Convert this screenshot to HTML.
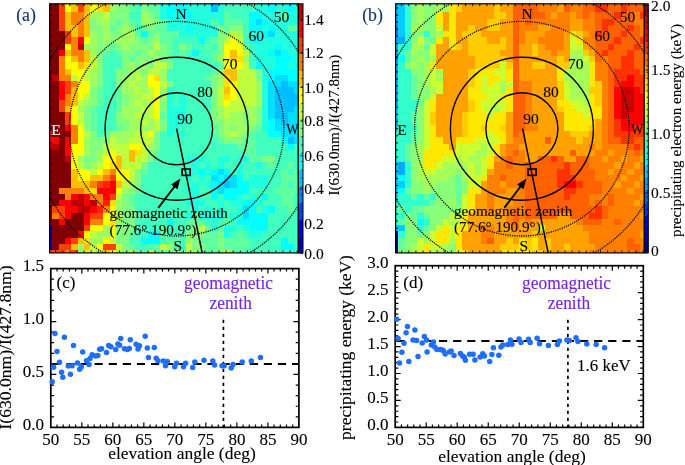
<!DOCTYPE html>
<html><head><meta charset="utf-8"><title>figure</title>
<style>html,body{margin:0;padding:0;background:#fff;overflow:hidden}svg{display:block;will-change:transform}text{font-family:"Liberation Serif",serif}</style>
</head><body><svg width="685" height="465" viewBox="0 0 685 465" font-family='"Liberation Serif", serif'><clipPath id="clipa"><rect x="49.6" y="3.8" width="248.70000000000002" height="249.1"/></clipPath><filter id="blclipa" x="-5%" y="-5%" width="110%" height="110%"><feGaussianBlur stdDeviation="0.55"/></filter><g clip-path="url(#clipa)"><g filter="url(#blclipa)" shape-rendering="crispEdges"><path fill="#800000" d="M45.94 0.80h12.72v11.50h-12.72zM45.94 12.30h12.72v6.26h-12.72zM45.94 18.56h12.72v6.26h-12.72zM45.94 24.81h12.72v6.26h-12.72zM45.94 31.07h19.07v6.26h-19.07zM45.94 37.33h19.07v6.26h-19.07zM45.94 43.59h19.07v6.26h-19.07zM45.94 49.85h12.72v6.26h-12.72zM45.94 56.10h12.72v6.26h-12.72zM45.94 62.36h12.72v6.26h-12.72zM45.94 68.62h12.72v6.26h-12.72zM45.94 74.88h6.36v6.26h-6.36zM45.94 81.14h12.72v6.26h-12.72zM45.94 87.39h12.72v6.26h-12.72zM45.94 93.65h12.72v6.26h-12.72zM45.94 99.91h12.72v6.26h-12.72zM45.94 106.17h12.72v6.26h-12.72zM45.94 112.43h19.07v6.26h-19.07zM45.94 118.68h19.07v6.26h-19.07zM45.94 124.94h19.07v6.26h-19.07zM52.30 131.20h19.07v6.26h-19.07zM58.66 137.46h6.36v6.26h-6.36zM58.66 143.72h6.36v6.26h-6.36zM45.94 149.97h19.07v6.26h-19.07zM45.94 156.23h19.07v6.26h-19.07zM45.94 162.49h25.43v6.26h-25.43zM45.94 168.75h25.43v6.26h-25.43zM45.94 175.01h25.43v6.26h-25.43zM45.94 181.26h25.43v6.26h-25.43zM45.94 187.52h12.72v6.26h-12.72zM45.94 193.78h19.07v6.26h-19.07zM45.94 200.04h12.72v6.26h-12.72zM45.94 206.30h6.36v6.26h-6.36zM45.94 212.55h6.36v6.26h-6.36zM71.37 212.55h12.72v6.26h-12.72zM45.94 218.81h12.72v6.26h-12.72zM65.01 218.81h19.07v6.26h-19.07zM52.30 225.07h31.79v6.26h-31.79zM52.30 231.33h25.43v6.26h-25.43zM52.30 237.59h12.72v6.26h-12.72zM52.30 243.84h6.36v6.26h-6.36z"/><path fill="#ff4000" d="M58.66 0.80h6.36v11.50h-6.36zM77.73 0.80h6.36v11.50h-6.36zM58.66 12.30h6.36v6.26h-6.36zM58.66 18.56h6.36v6.26h-6.36zM58.66 24.81h6.36v6.26h-6.36zM65.01 31.07h6.36v6.26h-6.36zM65.01 37.33h6.36v6.26h-6.36zM65.01 81.14h6.36v6.26h-6.36zM65.01 87.39h6.36v6.26h-6.36zM58.66 99.91h6.36v6.26h-6.36zM58.66 106.17h6.36v6.26h-6.36zM65.01 112.43h6.36v6.26h-6.36zM65.01 118.68h6.36v6.26h-6.36zM109.52 175.01h6.36v6.26h-6.36zM96.80 181.26h6.36v6.26h-6.36zM109.52 193.78h6.36v6.26h-6.36zM52.30 206.30h12.72v6.26h-12.72zM58.66 212.55h6.36v6.26h-6.36zM90.45 212.55h12.72v6.26h-12.72zM84.09 225.07h6.36v6.26h-6.36zM71.37 237.59h6.36v6.26h-6.36zM58.66 243.84h12.72v6.26h-12.72zM103.16 243.84h12.72v6.26h-12.72zM45.94 250.10h19.07v6.26h-19.07zM71.37 250.10h6.36v6.26h-6.36z"/><path fill="#ffff00" d="M65.01 0.80h6.36v11.50h-6.36zM90.45 0.80h6.36v11.50h-6.36zM84.09 37.33h6.36v6.26h-6.36zM230.32 37.33h6.36v6.26h-6.36zM65.01 43.59h6.36v6.26h-6.36zM223.96 43.59h19.07v6.26h-19.07zM223.96 49.85h6.36v6.26h-6.36zM236.68 49.85h6.36v6.26h-6.36zM65.01 56.10h6.36v6.26h-6.36zM223.96 56.10h6.36v6.26h-6.36zM65.01 62.36h12.72v6.26h-12.72zM223.96 62.36h19.07v6.26h-19.07zM71.37 68.62h12.72v6.26h-12.72zM77.73 74.88h6.36v6.26h-6.36zM147.67 74.88h6.36v6.26h-6.36zM77.73 81.14h12.72v6.26h-12.72zM147.67 81.14h12.72v6.26h-12.72zM230.32 81.14h6.36v6.26h-6.36zM77.73 87.39h12.72v6.26h-12.72zM154.03 87.39h6.36v6.26h-6.36zM230.32 87.39h6.36v6.26h-6.36zM77.73 93.65h6.36v6.26h-6.36zM154.03 93.65h6.36v6.26h-6.36zM230.32 93.65h6.36v6.26h-6.36zM154.03 99.91h6.36v6.26h-6.36zM223.96 99.91h6.36v6.26h-6.36zM71.37 106.17h6.36v6.26h-6.36zM154.03 106.17h6.36v6.26h-6.36zM71.37 112.43h6.36v6.26h-6.36zM154.03 112.43h6.36v6.26h-6.36zM71.37 118.68h6.36v6.26h-6.36zM77.73 124.94h6.36v6.26h-6.36zM77.73 131.20h6.36v6.26h-6.36zM147.67 131.20h6.36v6.26h-6.36zM77.73 137.46h6.36v6.26h-6.36zM71.37 143.72h12.72v6.26h-12.72zM128.59 143.72h12.72v6.26h-12.72zM71.37 149.97h12.72v6.26h-12.72zM109.52 149.97h6.36v6.26h-6.36zM71.37 156.23h6.36v6.26h-6.36zM103.16 156.23h12.72v6.26h-12.72zM71.37 162.49h6.36v6.26h-6.36zM103.16 162.49h6.36v6.26h-6.36zM77.73 168.75h12.72v6.26h-12.72zM96.80 168.75h6.36v6.26h-6.36zM115.88 168.75h12.72v6.26h-12.72zM77.73 175.01h12.72v6.26h-12.72zM115.88 175.01h12.72v6.26h-12.72zM115.88 187.52h6.36v6.26h-6.36zM109.52 206.30h6.36v6.26h-6.36zM103.16 212.55h12.72v6.26h-12.72zM103.16 218.81h6.36v6.26h-6.36zM90.45 225.07h12.72v6.26h-12.72zM109.52 225.07h6.36v6.26h-6.36zM84.09 231.33h6.36v6.26h-6.36zM109.52 231.33h6.36v6.26h-6.36zM103.16 237.59h6.36v6.26h-6.36zM96.80 243.84h6.36v6.26h-6.36zM109.52 250.10h6.36v6.26h-6.36z"/><path fill="#ffbf00" d="M71.37 0.80h6.36v11.50h-6.36zM84.09 0.80h6.36v11.50h-6.36zM103.16 0.80h6.36v11.50h-6.36zM65.01 12.30h6.36v6.26h-6.36zM84.09 12.30h6.36v6.26h-6.36zM65.01 18.56h6.36v6.26h-6.36zM84.09 18.56h6.36v6.26h-6.36zM65.01 24.81h12.72v6.26h-12.72zM84.09 24.81h6.36v6.26h-6.36zM71.37 31.07h6.36v6.26h-6.36zM84.09 31.07h6.36v6.26h-6.36zM65.01 49.85h6.36v6.26h-6.36zM84.09 49.85h6.36v6.26h-6.36zM230.32 49.85h6.36v6.26h-6.36zM71.37 56.10h6.36v6.26h-6.36zM84.09 56.10h6.36v6.26h-6.36zM230.32 56.10h6.36v6.26h-6.36zM77.73 62.36h6.36v6.26h-6.36zM65.01 68.62h6.36v6.26h-6.36zM223.96 68.62h12.72v6.26h-12.72zM230.32 74.88h6.36v6.26h-6.36zM71.37 87.39h6.36v6.26h-6.36zM223.96 87.39h6.36v6.26h-6.36zM71.37 93.65h6.36v6.26h-6.36zM71.37 99.91h6.36v6.26h-6.36zM65.01 106.17h6.36v6.26h-6.36zM128.59 149.97h6.36v6.26h-6.36zM115.88 156.23h6.36v6.26h-6.36zM128.59 156.23h6.36v6.26h-6.36zM115.88 162.49h6.36v6.26h-6.36zM71.37 168.75h6.36v6.26h-6.36zM103.16 168.75h6.36v6.26h-6.36zM71.37 175.01h6.36v6.26h-6.36zM90.45 175.01h12.72v6.26h-12.72zM71.37 181.26h19.07v6.26h-19.07zM115.88 181.26h6.36v6.26h-6.36zM84.09 187.52h6.36v6.26h-6.36zM77.73 237.59h6.36v6.26h-6.36zM71.37 243.84h6.36v6.26h-6.36zM84.09 243.84h6.36v6.26h-6.36zM103.16 250.10h6.36v6.26h-6.36z"/><path fill="#ffdf00" d="M96.80 0.80h6.36v11.50h-6.36zM236.68 56.10h6.36v6.26h-6.36zM84.09 62.36h6.36v6.26h-6.36zM154.03 74.88h6.36v6.26h-6.36zM223.96 74.88h6.36v6.26h-6.36zM223.96 81.14h6.36v6.26h-6.36zM223.96 93.65h6.36v6.26h-6.36zM134.95 149.97h6.36v6.26h-6.36zM109.52 162.49h6.36v6.26h-6.36zM90.45 187.52h6.36v6.26h-6.36zM109.52 200.04h6.36v6.26h-6.36zM109.52 218.81h6.36v6.26h-6.36zM84.09 237.59h6.36v6.26h-6.36z"/><path fill="#a0ff60" d="M109.52 0.80h6.36v11.50h-6.36zM90.45 12.30h12.72v6.26h-12.72zM141.31 12.30h6.36v6.26h-6.36zM96.80 18.56h12.72v6.26h-12.72zM141.31 18.56h12.72v6.26h-12.72zM103.16 24.81h6.36v6.26h-6.36zM122.24 24.81h6.36v6.26h-6.36zM90.45 31.07h6.36v6.26h-6.36zM103.16 31.07h6.36v6.26h-6.36zM122.24 31.07h12.72v6.26h-12.72zM236.68 31.07h6.36v6.26h-6.36zM90.45 37.33h6.36v6.26h-6.36zM103.16 37.33h6.36v6.26h-6.36zM115.88 37.33h19.07v6.26h-19.07zM154.03 37.33h6.36v6.26h-6.36zM84.09 43.59h12.72v6.26h-12.72zM122.24 43.59h6.36v6.26h-6.36zM90.45 49.85h6.36v6.26h-6.36zM147.67 49.85h6.36v6.26h-6.36zM154.03 56.10h6.36v6.26h-6.36zM217.61 56.10h6.36v6.26h-6.36zM243.04 56.10h6.36v6.26h-6.36zM128.59 62.36h6.36v6.26h-6.36zM141.31 62.36h6.36v6.26h-6.36zM90.45 68.62h6.36v6.26h-6.36zM128.59 68.62h12.72v6.26h-12.72zM160.38 68.62h6.36v6.26h-6.36zM217.61 68.62h6.36v6.26h-6.36zM90.45 74.88h6.36v6.26h-6.36zM122.24 74.88h12.72v6.26h-12.72zM141.31 74.88h6.36v6.26h-6.36zM160.38 74.88h6.36v6.26h-6.36zM217.61 74.88h6.36v6.26h-6.36zM90.45 81.14h6.36v6.26h-6.36zM122.24 81.14h6.36v6.26h-6.36zM134.95 81.14h12.72v6.26h-12.72zM217.61 81.14h6.36v6.26h-6.36zM255.75 81.14h6.36v6.26h-6.36zM122.24 87.39h12.72v6.26h-12.72zM141.31 87.39h6.36v6.26h-6.36zM160.38 87.39h6.36v6.26h-6.36zM255.75 87.39h6.36v6.26h-6.36zM128.59 93.65h12.72v6.26h-12.72zM160.38 93.65h6.36v6.26h-6.36zM255.75 93.65h6.36v6.26h-6.36zM84.09 99.91h6.36v6.26h-6.36zM128.59 99.91h6.36v6.26h-6.36zM141.31 99.91h6.36v6.26h-6.36zM255.75 99.91h6.36v6.26h-6.36zM77.73 106.17h6.36v6.26h-6.36zM122.24 106.17h19.07v6.26h-19.07zM217.61 106.17h6.36v6.26h-6.36zM243.04 106.17h12.72v6.26h-12.72zM122.24 112.43h12.72v6.26h-12.72zM141.31 112.43h6.36v6.26h-6.36zM217.61 112.43h6.36v6.26h-6.36zM230.32 112.43h12.72v6.26h-12.72zM249.40 112.43h6.36v6.26h-6.36zM128.59 118.68h12.72v6.26h-12.72zM147.67 118.68h6.36v6.26h-6.36zM223.96 118.68h19.07v6.26h-19.07zM249.40 118.68h6.36v6.26h-6.36zM128.59 124.94h25.43v6.26h-25.43zM223.96 124.94h6.36v6.26h-6.36zM236.68 124.94h12.72v6.26h-12.72zM109.52 131.20h25.43v6.26h-25.43zM223.96 131.20h6.36v6.26h-6.36zM236.68 131.20h6.36v6.26h-6.36zM84.09 137.46h6.36v6.26h-6.36zM115.88 137.46h12.72v6.26h-12.72zM84.09 143.72h6.36v6.26h-6.36zM147.67 143.72h6.36v6.26h-6.36zM84.09 149.97h6.36v6.26h-6.36zM96.80 149.97h6.36v6.26h-6.36zM77.73 156.23h6.36v6.26h-6.36zM96.80 156.23h6.36v6.26h-6.36zM90.45 162.49h6.36v6.26h-6.36zM128.59 181.26h6.36v6.26h-6.36zM122.24 187.52h6.36v6.26h-6.36zM115.88 200.04h6.36v6.26h-6.36zM115.88 206.30h6.36v6.26h-6.36zM115.88 218.81h6.36v6.26h-6.36zM103.16 225.07h6.36v6.26h-6.36zM96.80 231.33h12.72v6.26h-12.72zM90.45 237.59h12.72v6.26h-12.72zM185.82 237.59h6.36v6.26h-6.36zM77.73 243.84h6.36v6.26h-6.36zM166.74 243.84h6.36v6.26h-6.36zM77.73 250.10h6.36v6.26h-6.36zM185.82 250.10h12.72v6.26h-12.72z"/><path fill="#80ff80" d="M115.88 0.80h12.72v11.50h-12.72zM141.31 0.80h6.36v11.50h-6.36zM109.52 12.30h19.07v6.26h-19.07zM147.67 12.30h6.36v6.26h-6.36zM90.45 18.56h6.36v6.26h-6.36zM109.52 18.56h6.36v6.26h-6.36zM122.24 18.56h6.36v6.26h-6.36zM154.03 18.56h6.36v6.26h-6.36zM90.45 24.81h12.72v6.26h-12.72zM115.88 24.81h6.36v6.26h-6.36zM128.59 24.81h6.36v6.26h-6.36zM147.67 24.81h6.36v6.26h-6.36zM217.61 24.81h6.36v6.26h-6.36zM230.32 24.81h12.72v6.26h-12.72zM96.80 31.07h6.36v6.26h-6.36zM109.52 31.07h12.72v6.26h-12.72zM154.03 31.07h6.36v6.26h-6.36zM217.61 31.07h12.72v6.26h-12.72zM96.80 37.33h6.36v6.26h-6.36zM109.52 37.33h6.36v6.26h-6.36zM134.95 37.33h6.36v6.26h-6.36zM147.67 37.33h6.36v6.26h-6.36zM217.61 37.33h6.36v6.26h-6.36zM96.80 43.59h12.72v6.26h-12.72zM115.88 43.59h6.36v6.26h-6.36zM128.59 43.59h25.43v6.26h-25.43zM160.38 43.59h6.36v6.26h-6.36zM179.46 43.59h6.36v6.26h-6.36zM217.61 43.59h6.36v6.26h-6.36zM96.80 49.85h6.36v6.26h-6.36zM122.24 49.85h12.72v6.26h-12.72zM141.31 49.85h6.36v6.26h-6.36zM154.03 49.85h12.72v6.26h-12.72zM217.61 49.85h6.36v6.26h-6.36zM96.80 56.10h6.36v6.26h-6.36zM122.24 56.10h6.36v6.26h-6.36zM134.95 56.10h19.07v6.26h-19.07zM160.38 56.10h6.36v6.26h-6.36zM96.80 62.36h6.36v6.26h-6.36zM122.24 62.36h6.36v6.26h-6.36zM134.95 62.36h6.36v6.26h-6.36zM147.67 62.36h6.36v6.26h-6.36zM166.74 62.36h6.36v6.26h-6.36zM96.80 68.62h6.36v6.26h-6.36zM115.88 68.62h12.72v6.26h-12.72zM141.31 68.62h6.36v6.26h-6.36zM255.75 68.62h6.36v6.26h-6.36zM96.80 74.88h6.36v6.26h-6.36zM115.88 74.88h6.36v6.26h-6.36zM211.25 74.88h6.36v6.26h-6.36zM255.75 74.88h6.36v6.26h-6.36zM96.80 81.14h6.36v6.26h-6.36zM115.88 81.14h6.36v6.26h-6.36zM166.74 81.14h6.36v6.26h-6.36zM211.25 81.14h6.36v6.26h-6.36zM90.45 87.39h6.36v6.26h-6.36zM211.25 87.39h6.36v6.26h-6.36zM90.45 93.65h6.36v6.26h-6.36zM122.24 93.65h6.36v6.26h-6.36zM211.25 93.65h6.36v6.26h-6.36zM90.45 99.91h6.36v6.26h-6.36zM122.24 99.91h6.36v6.26h-6.36zM160.38 99.91h6.36v6.26h-6.36zM211.25 99.91h6.36v6.26h-6.36zM84.09 106.17h6.36v6.26h-6.36zM160.38 106.17h6.36v6.26h-6.36zM211.25 106.17h6.36v6.26h-6.36zM255.75 106.17h6.36v6.26h-6.36zM84.09 112.43h6.36v6.26h-6.36zM115.88 112.43h6.36v6.26h-6.36zM211.25 112.43h6.36v6.26h-6.36zM243.04 112.43h6.36v6.26h-6.36zM255.75 112.43h6.36v6.26h-6.36zM84.09 118.68h6.36v6.26h-6.36zM115.88 118.68h12.72v6.26h-12.72zM160.38 118.68h6.36v6.26h-6.36zM211.25 118.68h12.72v6.26h-12.72zM243.04 118.68h6.36v6.26h-6.36zM255.75 118.68h6.36v6.26h-6.36zM84.09 124.94h6.36v6.26h-6.36zM122.24 124.94h6.36v6.26h-6.36zM160.38 124.94h6.36v6.26h-6.36zM217.61 124.94h6.36v6.26h-6.36zM230.32 124.94h6.36v6.26h-6.36zM249.40 124.94h6.36v6.26h-6.36zM90.45 131.20h6.36v6.26h-6.36zM154.03 131.20h6.36v6.26h-6.36zM217.61 131.20h6.36v6.26h-6.36zM243.04 131.20h6.36v6.26h-6.36zM90.45 137.46h19.07v6.26h-19.07zM154.03 137.46h6.36v6.26h-6.36zM223.96 137.46h19.07v6.26h-19.07zM90.45 143.72h12.72v6.26h-12.72zM154.03 143.72h6.36v6.26h-6.36zM90.45 149.97h6.36v6.26h-6.36zM147.67 149.97h6.36v6.26h-6.36zM84.09 156.23h12.72v6.26h-12.72zM147.67 156.23h6.36v6.26h-6.36zM262.11 156.23h12.72v6.26h-12.72zM84.09 162.49h6.36v6.26h-6.36zM141.31 162.49h6.36v6.26h-6.36zM134.95 168.75h6.36v6.26h-6.36zM134.95 175.01h6.36v6.26h-6.36zM134.95 181.26h6.36v6.26h-6.36zM128.59 187.52h6.36v6.26h-6.36zM122.24 193.78h6.36v6.26h-6.36zM122.24 200.04h6.36v6.26h-6.36zM122.24 206.30h12.72v6.26h-12.72zM122.24 212.55h12.72v6.26h-12.72zM122.24 218.81h12.72v6.26h-12.72zM115.88 225.07h19.07v6.26h-19.07zM192.17 225.07h6.36v6.26h-6.36zM115.88 231.33h12.72v6.26h-12.72zM185.82 231.33h19.07v6.26h-19.07zM217.61 231.33h6.36v6.26h-6.36zM115.88 237.59h12.72v6.26h-12.72zM192.17 237.59h6.36v6.26h-6.36zM217.61 237.59h6.36v6.26h-6.36zM122.24 243.84h6.36v6.26h-6.36zM192.17 243.84h12.72v6.26h-12.72zM217.61 243.84h6.36v6.26h-6.36zM122.24 250.10h6.36v6.26h-6.36zM217.61 250.10h6.36v6.26h-6.36z"/><path fill="#60ffa0" d="M128.59 0.80h6.36v11.50h-6.36zM147.67 0.80h12.72v11.50h-12.72zM154.03 12.30h6.36v6.26h-6.36zM223.96 12.30h6.36v6.26h-6.36zM281.19 12.30h6.36v6.26h-6.36zM115.88 18.56h6.36v6.26h-6.36zM128.59 18.56h6.36v6.26h-6.36zM160.38 18.56h6.36v6.26h-6.36zM211.25 18.56h6.36v6.26h-6.36zM223.96 18.56h19.07v6.26h-19.07zM109.52 24.81h6.36v6.26h-6.36zM141.31 24.81h6.36v6.26h-6.36zM154.03 24.81h12.72v6.26h-12.72zM223.96 24.81h6.36v6.26h-6.36zM287.54 24.81h12.72v6.26h-12.72zM134.95 31.07h6.36v6.26h-6.36zM147.67 31.07h6.36v6.26h-6.36zM160.38 31.07h19.07v6.26h-19.07zM141.31 37.33h6.36v6.26h-6.36zM160.38 37.33h12.72v6.26h-12.72zM211.25 37.33h6.36v6.26h-6.36zM109.52 43.59h6.36v6.26h-6.36zM166.74 43.59h6.36v6.26h-6.36zM185.82 43.59h6.36v6.26h-6.36zM204.89 43.59h6.36v6.26h-6.36zM243.04 43.59h6.36v6.26h-6.36zM103.16 49.85h6.36v6.26h-6.36zM115.88 49.85h6.36v6.26h-6.36zM134.95 49.85h6.36v6.26h-6.36zM166.74 49.85h6.36v6.26h-6.36zM179.46 49.85h6.36v6.26h-6.36zM211.25 49.85h6.36v6.26h-6.36zM128.59 56.10h6.36v6.26h-6.36zM166.74 56.10h6.36v6.26h-6.36zM211.25 56.10h6.36v6.26h-6.36zM217.61 62.36h6.36v6.26h-6.36zM211.25 68.62h6.36v6.26h-6.36zM204.89 74.88h6.36v6.26h-6.36zM96.80 87.39h6.36v6.26h-6.36zM115.88 87.39h6.36v6.26h-6.36zM204.89 87.39h6.36v6.26h-6.36zM96.80 93.65h6.36v6.26h-6.36zM115.88 93.65h6.36v6.26h-6.36zM96.80 99.91h6.36v6.26h-6.36zM115.88 99.91h6.36v6.26h-6.36zM90.45 106.17h6.36v6.26h-6.36zM115.88 106.17h6.36v6.26h-6.36zM90.45 112.43h6.36v6.26h-6.36zM160.38 112.43h6.36v6.26h-6.36zM90.45 118.68h6.36v6.26h-6.36zM90.45 124.94h6.36v6.26h-6.36zM115.88 124.94h6.36v6.26h-6.36zM211.25 124.94h6.36v6.26h-6.36zM255.75 124.94h6.36v6.26h-6.36zM103.16 131.20h6.36v6.26h-6.36zM211.25 131.20h6.36v6.26h-6.36zM249.40 131.20h6.36v6.26h-6.36zM217.61 137.46h6.36v6.26h-6.36zM243.04 137.46h12.72v6.26h-12.72zM236.68 143.72h19.07v6.26h-19.07zM154.03 149.97h6.36v6.26h-6.36zM243.04 149.97h12.72v6.26h-12.72zM249.40 156.23h12.72v6.26h-12.72zM268.47 162.49h6.36v6.26h-6.36zM287.54 162.49h6.36v6.26h-6.36zM141.31 168.75h6.36v6.26h-6.36zM281.19 168.75h6.36v6.26h-6.36zM293.90 168.75h6.36v6.26h-6.36zM281.19 175.01h19.07v6.26h-19.07zM281.19 181.26h6.36v6.26h-6.36zM293.90 181.26h6.36v6.26h-6.36zM134.95 187.52h6.36v6.26h-6.36zM274.83 187.52h25.43v6.26h-25.43zM128.59 193.78h6.36v6.26h-6.36zM281.19 193.78h12.72v6.26h-12.72zM128.59 200.04h6.36v6.26h-6.36zM281.19 200.04h12.72v6.26h-12.72zM287.54 206.30h6.36v6.26h-6.36zM134.95 212.55h6.36v6.26h-6.36zM192.17 212.55h6.36v6.26h-6.36zM185.82 218.81h19.07v6.26h-19.07zM223.96 218.81h6.36v6.26h-6.36zM160.38 225.07h6.36v6.26h-6.36zM185.82 225.07h6.36v6.26h-6.36zM204.89 225.07h6.36v6.26h-6.36zM217.61 225.07h6.36v6.26h-6.36zM128.59 231.33h6.36v6.26h-6.36zM160.38 231.33h6.36v6.26h-6.36zM204.89 231.33h12.72v6.26h-12.72zM236.68 231.33h6.36v6.26h-6.36zM166.74 237.59h12.72v6.26h-12.72zM198.53 237.59h19.07v6.26h-19.07zM223.96 237.59h25.43v6.26h-25.43zM128.59 243.84h6.36v6.26h-6.36zM154.03 243.84h6.36v6.26h-6.36zM204.89 243.84h12.72v6.26h-12.72zM223.96 243.84h25.43v6.26h-25.43zM134.95 250.10h12.72v6.26h-12.72zM154.03 250.10h19.07v6.26h-19.07zM179.46 250.10h6.36v6.26h-6.36zM198.53 250.10h19.07v6.26h-19.07zM230.32 250.10h12.72v6.26h-12.72z"/><path fill="#40ffbf" d="M134.95 0.80h6.36v11.50h-6.36zM223.96 0.80h31.79v11.50h-31.79zM128.59 12.30h12.72v6.26h-12.72zM230.32 12.30h19.07v6.26h-19.07zM134.95 18.56h6.36v6.26h-6.36zM243.04 18.56h6.36v6.26h-6.36zM134.95 24.81h6.36v6.26h-6.36zM243.04 24.81h6.36v6.26h-6.36zM243.04 31.07h12.72v6.26h-12.72zM173.10 37.33h25.43v6.26h-25.43zM204.89 37.33h6.36v6.26h-6.36zM243.04 37.33h6.36v6.26h-6.36zM173.10 43.59h6.36v6.26h-6.36zM192.17 43.59h12.72v6.26h-12.72zM211.25 43.59h6.36v6.26h-6.36zM249.40 43.59h6.36v6.26h-6.36zM109.52 49.85h6.36v6.26h-6.36zM173.10 49.85h6.36v6.26h-6.36zM185.82 49.85h6.36v6.26h-6.36zM198.53 49.85h12.72v6.26h-12.72zM249.40 49.85h6.36v6.26h-6.36zM103.16 56.10h19.07v6.26h-19.07zM173.10 56.10h38.15v6.26h-38.15zM249.40 56.10h6.36v6.26h-6.36zM103.16 62.36h19.07v6.26h-19.07zM173.10 62.36h44.51v6.26h-44.51zM249.40 62.36h6.36v6.26h-6.36zM103.16 68.62h12.72v6.26h-12.72zM166.74 68.62h44.51v6.26h-44.51zM103.16 74.88h12.72v6.26h-12.72zM166.74 74.88h38.15v6.26h-38.15zM103.16 81.14h12.72v6.26h-12.72zM173.10 81.14h38.15v6.26h-38.15zM103.16 87.39h12.72v6.26h-12.72zM173.10 87.39h31.79v6.26h-31.79zM103.16 93.65h12.72v6.26h-12.72zM173.10 93.65h6.36v6.26h-6.36zM185.82 93.65h25.43v6.26h-25.43zM103.16 99.91h12.72v6.26h-12.72zM173.10 99.91h6.36v6.26h-6.36zM185.82 99.91h25.43v6.26h-25.43zM96.80 106.17h19.07v6.26h-19.07zM185.82 106.17h25.43v6.26h-25.43zM96.80 112.43h19.07v6.26h-19.07zM185.82 112.43h25.43v6.26h-25.43zM96.80 118.68h19.07v6.26h-19.07zM185.82 118.68h25.43v6.26h-25.43zM96.80 124.94h19.07v6.26h-19.07zM179.46 124.94h31.79v6.26h-31.79zM96.80 131.20h6.36v6.26h-6.36zM160.38 131.20h6.36v6.26h-6.36zM173.10 131.20h6.36v6.26h-6.36zM185.82 131.20h25.43v6.26h-25.43zM255.75 131.20h12.72v6.26h-12.72zM160.38 137.46h57.22v6.26h-57.22zM255.75 137.46h25.43v6.26h-25.43zM160.38 143.72h76.30v6.26h-76.30zM255.75 143.72h31.79v6.26h-31.79zM293.90 143.72h6.36v6.26h-6.36zM160.38 149.97h82.65v6.26h-82.65zM255.75 149.97h44.51v6.26h-44.51zM154.03 156.23h31.79v6.26h-31.79zM204.89 156.23h12.72v6.26h-12.72zM230.32 156.23h6.36v6.26h-6.36zM274.83 156.23h25.43v6.26h-25.43zM147.67 162.49h44.51v6.26h-44.51zM198.53 162.49h6.36v6.26h-6.36zM211.25 162.49h6.36v6.26h-6.36zM223.96 162.49h12.72v6.26h-12.72zM243.04 162.49h12.72v6.26h-12.72zM262.11 162.49h6.36v6.26h-6.36zM274.83 162.49h12.72v6.26h-12.72zM293.90 162.49h6.36v6.26h-6.36zM147.67 168.75h38.15v6.26h-38.15zM230.32 168.75h6.36v6.26h-6.36zM243.04 168.75h38.15v6.26h-38.15zM287.54 168.75h6.36v6.26h-6.36zM141.31 175.01h44.51v6.26h-44.51zM192.17 175.01h6.36v6.26h-6.36zM204.89 175.01h6.36v6.26h-6.36zM243.04 175.01h6.36v6.26h-6.36zM268.47 175.01h12.72v6.26h-12.72zM141.31 181.26h50.86v6.26h-50.86zM198.53 181.26h6.36v6.26h-6.36zM268.47 181.26h12.72v6.26h-12.72zM287.54 181.26h6.36v6.26h-6.36zM141.31 187.52h44.51v6.26h-44.51zM198.53 187.52h12.72v6.26h-12.72zM249.40 187.52h25.43v6.26h-25.43zM134.95 193.78h57.22v6.26h-57.22zM198.53 193.78h12.72v6.26h-12.72zM217.61 193.78h6.36v6.26h-6.36zM243.04 193.78h6.36v6.26h-6.36zM255.75 193.78h6.36v6.26h-6.36zM268.47 193.78h12.72v6.26h-12.72zM293.90 193.78h6.36v6.26h-6.36zM134.95 200.04h50.86v6.26h-50.86zM204.89 200.04h12.72v6.26h-12.72zM223.96 200.04h6.36v6.26h-6.36zM262.11 200.04h19.07v6.26h-19.07zM293.90 200.04h6.36v6.26h-6.36zM134.95 206.30h57.22v6.26h-57.22zM198.53 206.30h6.36v6.26h-6.36zM211.25 206.30h6.36v6.26h-6.36zM223.96 206.30h12.72v6.26h-12.72zM255.75 206.30h6.36v6.26h-6.36zM274.83 206.30h12.72v6.26h-12.72zM293.90 206.30h6.36v6.26h-6.36zM141.31 212.55h44.51v6.26h-44.51zM223.96 212.55h6.36v6.26h-6.36zM268.47 212.55h31.79v6.26h-31.79zM134.95 218.81h31.79v6.26h-31.79zM173.10 218.81h12.72v6.26h-12.72zM204.89 218.81h6.36v6.26h-6.36zM217.61 218.81h6.36v6.26h-6.36zM230.32 218.81h6.36v6.26h-6.36zM268.47 218.81h31.79v6.26h-31.79zM134.95 225.07h25.43v6.26h-25.43zM166.74 225.07h19.07v6.26h-19.07zM236.68 225.07h6.36v6.26h-6.36zM268.47 225.07h31.79v6.26h-31.79zM134.95 231.33h12.72v6.26h-12.72zM166.74 231.33h19.07v6.26h-19.07zM230.32 231.33h6.36v6.26h-6.36zM243.04 231.33h6.36v6.26h-6.36zM262.11 231.33h38.15v6.26h-38.15zM128.59 237.59h12.72v6.26h-12.72zM160.38 237.59h6.36v6.26h-6.36zM179.46 237.59h6.36v6.26h-6.36zM249.40 237.59h31.79v6.26h-31.79zM287.54 237.59h12.72v6.26h-12.72zM134.95 243.84h19.07v6.26h-19.07zM173.10 243.84h12.72v6.26h-12.72zM249.40 243.84h31.79v6.26h-31.79zM293.90 243.84h6.36v6.26h-6.36zM243.04 250.10h57.22v6.26h-57.22z"/><path fill="#20ffdf" d="M160.38 0.80h6.36v11.50h-6.36zM185.82 0.80h25.43v11.50h-25.43zM217.61 0.80h6.36v11.50h-6.36zM255.75 0.80h12.72v11.50h-12.72zM274.83 0.80h12.72v11.50h-12.72zM293.90 0.80h6.36v11.50h-6.36zM160.38 12.30h6.36v6.26h-6.36zM173.10 12.30h6.36v6.26h-6.36zM192.17 12.30h31.79v6.26h-31.79zM262.11 12.30h19.07v6.26h-19.07zM287.54 12.30h12.72v6.26h-12.72zM166.74 18.56h44.51v6.26h-44.51zM217.61 18.56h6.36v6.26h-6.36zM268.47 18.56h31.79v6.26h-31.79zM166.74 24.81h19.07v6.26h-19.07zM192.17 24.81h25.43v6.26h-25.43zM262.11 24.81h6.36v6.26h-6.36zM274.83 24.81h12.72v6.26h-12.72zM179.46 31.07h38.15v6.26h-38.15zM255.75 31.07h6.36v6.26h-6.36zM274.83 31.07h25.43v6.26h-25.43zM262.11 37.33h38.15v6.26h-38.15zM255.75 43.59h19.07v6.26h-19.07zM281.19 43.59h19.07v6.26h-19.07zM255.75 49.85h12.72v6.26h-12.72zM287.54 49.85h12.72v6.26h-12.72zM255.75 56.10h19.07v6.26h-19.07zM293.90 56.10h6.36v6.26h-6.36zM262.11 62.36h12.72v6.26h-12.72zM287.54 62.36h6.36v6.26h-6.36zM262.11 68.62h6.36v6.26h-6.36zM262.11 74.88h6.36v6.26h-6.36zM262.11 81.14h6.36v6.26h-6.36zM166.74 87.39h6.36v6.26h-6.36zM262.11 87.39h6.36v6.26h-6.36zM166.74 93.65h6.36v6.26h-6.36zM179.46 93.65h6.36v6.26h-6.36zM262.11 93.65h6.36v6.26h-6.36zM166.74 99.91h6.36v6.26h-6.36zM179.46 99.91h6.36v6.26h-6.36zM262.11 99.91h6.36v6.26h-6.36zM166.74 106.17h19.07v6.26h-19.07zM262.11 106.17h6.36v6.26h-6.36zM166.74 112.43h19.07v6.26h-19.07zM262.11 112.43h6.36v6.26h-6.36zM166.74 118.68h19.07v6.26h-19.07zM262.11 118.68h6.36v6.26h-6.36zM166.74 124.94h12.72v6.26h-12.72zM262.11 124.94h6.36v6.26h-6.36zM166.74 131.20h6.36v6.26h-6.36zM179.46 131.20h6.36v6.26h-6.36zM185.82 156.23h19.07v6.26h-19.07zM217.61 156.23h12.72v6.26h-12.72zM236.68 156.23h12.72v6.26h-12.72zM192.17 162.49h6.36v6.26h-6.36zM204.89 162.49h6.36v6.26h-6.36zM217.61 162.49h6.36v6.26h-6.36zM236.68 162.49h6.36v6.26h-6.36zM255.75 162.49h6.36v6.26h-6.36zM185.82 168.75h12.72v6.26h-12.72zM204.89 168.75h6.36v6.26h-6.36zM236.68 168.75h6.36v6.26h-6.36zM185.82 175.01h6.36v6.26h-6.36zM198.53 175.01h6.36v6.26h-6.36zM249.40 175.01h19.07v6.26h-19.07zM192.17 181.26h6.36v6.26h-6.36zM204.89 181.26h6.36v6.26h-6.36zM249.40 181.26h19.07v6.26h-19.07zM185.82 187.52h12.72v6.26h-12.72zM192.17 193.78h6.36v6.26h-6.36zM236.68 193.78h6.36v6.26h-6.36zM249.40 193.78h6.36v6.26h-6.36zM185.82 200.04h19.07v6.26h-19.07zM217.61 200.04h6.36v6.26h-6.36zM230.32 200.04h12.72v6.26h-12.72zM255.75 200.04h6.36v6.26h-6.36zM192.17 206.30h6.36v6.26h-6.36zM204.89 206.30h6.36v6.26h-6.36zM217.61 206.30h6.36v6.26h-6.36zM236.68 206.30h6.36v6.26h-6.36zM262.11 206.30h6.36v6.26h-6.36zM185.82 212.55h6.36v6.26h-6.36zM198.53 212.55h25.43v6.26h-25.43zM230.32 212.55h12.72v6.26h-12.72zM211.25 218.81h6.36v6.26h-6.36zM211.25 225.07h6.36v6.26h-6.36zM223.96 225.07h12.72v6.26h-12.72zM243.04 225.07h6.36v6.26h-6.36zM223.96 231.33h6.36v6.26h-6.36zM249.40 231.33h12.72v6.26h-12.72z"/><path fill="#00ffff" d="M166.74 0.80h19.07v11.50h-19.07zM268.47 0.80h6.36v11.50h-6.36zM287.54 0.80h6.36v11.50h-6.36zM166.74 12.30h6.36v6.26h-6.36zM179.46 12.30h12.72v6.26h-12.72zM249.40 12.30h12.72v6.26h-12.72zM249.40 18.56h6.36v6.26h-6.36zM262.11 18.56h6.36v6.26h-6.36zM185.82 24.81h6.36v6.26h-6.36zM249.40 24.81h12.72v6.26h-12.72zM268.47 24.81h6.36v6.26h-6.36zM141.31 31.07h6.36v6.26h-6.36zM262.11 31.07h6.36v6.26h-6.36zM198.53 37.33h6.36v6.26h-6.36zM249.40 37.33h12.72v6.26h-12.72zM274.83 43.59h6.36v6.26h-6.36zM192.17 49.85h6.36v6.26h-6.36zM268.47 49.85h6.36v6.26h-6.36zM281.19 49.85h6.36v6.26h-6.36zM274.83 56.10h19.07v6.26h-19.07zM255.75 62.36h6.36v6.26h-6.36zM274.83 62.36h12.72v6.26h-12.72zM293.90 62.36h6.36v6.26h-6.36zM268.47 68.62h31.79v6.26h-31.79zM268.47 74.88h6.36v6.26h-6.36zM287.54 74.88h12.72v6.26h-12.72zM268.47 118.68h6.36v6.26h-6.36zM268.47 124.94h6.36v6.26h-6.36zM268.47 131.20h12.72v6.26h-12.72zM281.19 137.46h6.36v6.26h-6.36zM287.54 143.72h6.36v6.26h-6.36zM198.53 168.75h6.36v6.26h-6.36zM211.25 168.75h6.36v6.26h-6.36zM223.96 168.75h6.36v6.26h-6.36zM217.61 175.01h6.36v6.26h-6.36zM236.68 175.01h6.36v6.26h-6.36zM211.25 181.26h6.36v6.26h-6.36zM236.68 181.26h12.72v6.26h-12.72zM211.25 187.52h6.36v6.26h-6.36zM223.96 187.52h25.43v6.26h-25.43zM211.25 193.78h6.36v6.26h-6.36zM223.96 193.78h12.72v6.26h-12.72zM262.11 193.78h6.36v6.26h-6.36zM243.04 200.04h12.72v6.26h-12.72zM249.40 206.30h6.36v6.26h-6.36zM268.47 206.30h6.36v6.26h-6.36zM249.40 212.55h19.07v6.26h-19.07zM166.74 218.81h6.36v6.26h-6.36zM236.68 218.81h31.79v6.26h-31.79zM249.40 225.07h19.07v6.26h-19.07zM147.67 231.33h12.72v6.26h-12.72zM141.31 237.59h19.07v6.26h-19.07zM281.19 237.59h6.36v6.26h-6.36zM281.19 243.84h12.72v6.26h-12.72z"/><path fill="#00bfff" d="M211.25 0.80h6.36v11.50h-6.36zM281.19 81.14h6.36v6.26h-6.36zM274.83 87.39h19.07v6.26h-19.07zM274.83 93.65h25.43v6.26h-25.43zM274.83 99.91h25.43v6.26h-25.43zM274.83 106.17h19.07v6.26h-19.07zM274.83 112.43h12.72v6.26h-12.72zM281.19 118.68h6.36v6.26h-6.36zM287.54 137.46h6.36v6.26h-6.36zM223.96 181.26h6.36v6.26h-6.36z"/><path fill="#ff8000" d="M71.37 12.30h12.72v6.26h-12.72zM71.37 18.56h12.72v6.26h-12.72zM77.73 24.81h6.36v6.26h-6.36zM77.73 31.07h6.36v6.26h-6.36zM71.37 37.33h6.36v6.26h-6.36zM71.37 43.59h6.36v6.26h-6.36zM71.37 49.85h12.72v6.26h-12.72zM58.66 56.10h6.36v6.26h-6.36zM77.73 56.10h6.36v6.26h-6.36zM58.66 62.36h6.36v6.26h-6.36zM58.66 68.62h6.36v6.26h-6.36zM58.66 74.88h12.72v6.26h-12.72zM71.37 81.14h6.36v6.26h-6.36zM65.01 93.65h6.36v6.26h-6.36zM65.01 99.91h6.36v6.26h-6.36zM71.37 124.94h6.36v6.26h-6.36zM71.37 131.20h6.36v6.26h-6.36zM71.37 137.46h6.36v6.26h-6.36zM109.52 168.75h6.36v6.26h-6.36zM103.16 175.01h6.36v6.26h-6.36zM90.45 181.26h6.36v6.26h-6.36zM58.66 187.52h25.43v6.26h-25.43zM65.01 193.78h6.36v6.26h-6.36zM90.45 193.78h12.72v6.26h-12.72zM96.80 200.04h6.36v6.26h-6.36zM103.16 206.30h6.36v6.26h-6.36zM52.30 212.55h6.36v6.26h-6.36zM90.45 218.81h12.72v6.26h-12.72zM65.01 250.10h6.36v6.26h-6.36z"/><path fill="#bfff40" d="M103.16 12.30h6.36v6.26h-6.36zM230.32 31.07h6.36v6.26h-6.36zM223.96 37.33h6.36v6.26h-6.36zM236.68 37.33h6.36v6.26h-6.36zM154.03 43.59h6.36v6.26h-6.36zM243.04 49.85h6.36v6.26h-6.36zM90.45 56.10h6.36v6.26h-6.36zM90.45 62.36h6.36v6.26h-6.36zM154.03 62.36h12.72v6.26h-12.72zM243.04 62.36h6.36v6.26h-6.36zM84.09 68.62h6.36v6.26h-6.36zM147.67 68.62h12.72v6.26h-12.72zM236.68 68.62h19.07v6.26h-19.07zM71.37 74.88h6.36v6.26h-6.36zM84.09 74.88h6.36v6.26h-6.36zM134.95 74.88h6.36v6.26h-6.36zM236.68 74.88h19.07v6.26h-19.07zM128.59 81.14h6.36v6.26h-6.36zM160.38 81.14h6.36v6.26h-6.36zM236.68 81.14h19.07v6.26h-19.07zM134.95 87.39h6.36v6.26h-6.36zM147.67 87.39h6.36v6.26h-6.36zM217.61 87.39h6.36v6.26h-6.36zM236.68 87.39h19.07v6.26h-19.07zM84.09 93.65h6.36v6.26h-6.36zM141.31 93.65h12.72v6.26h-12.72zM217.61 93.65h6.36v6.26h-6.36zM236.68 93.65h19.07v6.26h-19.07zM77.73 99.91h6.36v6.26h-6.36zM134.95 99.91h6.36v6.26h-6.36zM147.67 99.91h6.36v6.26h-6.36zM217.61 99.91h6.36v6.26h-6.36zM230.32 99.91h25.43v6.26h-25.43zM141.31 106.17h12.72v6.26h-12.72zM223.96 106.17h19.07v6.26h-19.07zM77.73 112.43h6.36v6.26h-6.36zM134.95 112.43h6.36v6.26h-6.36zM147.67 112.43h6.36v6.26h-6.36zM223.96 112.43h6.36v6.26h-6.36zM77.73 118.68h6.36v6.26h-6.36zM141.31 118.68h6.36v6.26h-6.36zM154.03 118.68h6.36v6.26h-6.36zM154.03 124.94h6.36v6.26h-6.36zM84.09 131.20h6.36v6.26h-6.36zM134.95 131.20h12.72v6.26h-12.72zM230.32 131.20h6.36v6.26h-6.36zM109.52 137.46h6.36v6.26h-6.36zM128.59 137.46h25.43v6.26h-25.43zM103.16 143.72h25.43v6.26h-25.43zM141.31 143.72h6.36v6.26h-6.36zM103.16 149.97h6.36v6.26h-6.36zM115.88 149.97h12.72v6.26h-12.72zM141.31 149.97h6.36v6.26h-6.36zM122.24 156.23h6.36v6.26h-6.36zM134.95 156.23h12.72v6.26h-12.72zM77.73 162.49h6.36v6.26h-6.36zM96.80 162.49h6.36v6.26h-6.36zM122.24 162.49h19.07v6.26h-19.07zM90.45 168.75h6.36v6.26h-6.36zM128.59 168.75h6.36v6.26h-6.36zM128.59 175.01h6.36v6.26h-6.36zM122.24 181.26h6.36v6.26h-6.36zM115.88 193.78h6.36v6.26h-6.36zM115.88 212.55h6.36v6.26h-6.36zM198.53 225.07h6.36v6.26h-6.36zM90.45 231.33h6.36v6.26h-6.36zM109.52 237.59h6.36v6.26h-6.36zM90.45 243.84h6.36v6.26h-6.36zM115.88 243.84h6.36v6.26h-6.36zM160.38 243.84h6.36v6.26h-6.36zM185.82 243.84h6.36v6.26h-6.36zM84.09 250.10h19.07v6.26h-19.07zM115.88 250.10h6.36v6.26h-6.36zM128.59 250.10h6.36v6.26h-6.36zM147.67 250.10h6.36v6.26h-6.36zM173.10 250.10h6.36v6.26h-6.36zM223.96 250.10h6.36v6.26h-6.36z"/><path fill="#00dfff" d="M255.75 18.56h6.36v6.26h-6.36zM268.47 31.07h6.36v6.26h-6.36zM274.83 49.85h6.36v6.26h-6.36zM274.83 74.88h12.72v6.26h-12.72zM268.47 81.14h12.72v6.26h-12.72zM287.54 81.14h12.72v6.26h-12.72zM268.47 87.39h6.36v6.26h-6.36zM293.90 87.39h6.36v6.26h-6.36zM268.47 93.65h6.36v6.26h-6.36zM268.47 99.91h6.36v6.26h-6.36zM268.47 106.17h6.36v6.26h-6.36zM293.90 106.17h6.36v6.26h-6.36zM268.47 112.43h6.36v6.26h-6.36zM287.54 112.43h12.72v6.26h-12.72zM274.83 118.68h6.36v6.26h-6.36zM287.54 118.68h12.72v6.26h-12.72zM274.83 124.94h25.43v6.26h-25.43zM281.19 131.20h19.07v6.26h-19.07zM293.90 137.46h6.36v6.26h-6.36zM217.61 168.75h6.36v6.26h-6.36zM211.25 175.01h6.36v6.26h-6.36zM223.96 175.01h12.72v6.26h-12.72zM217.61 181.26h6.36v6.26h-6.36zM230.32 181.26h6.36v6.26h-6.36zM217.61 187.52h6.36v6.26h-6.36zM243.04 206.30h6.36v6.26h-6.36zM243.04 212.55h6.36v6.26h-6.36z"/><path fill="#ff0000" d="M77.73 37.33h6.36v6.26h-6.36zM58.66 49.85h6.36v6.26h-6.36zM58.66 81.14h6.36v6.26h-6.36zM58.66 87.39h6.36v6.26h-6.36zM58.66 93.65h6.36v6.26h-6.36zM65.01 124.94h6.36v6.26h-6.36zM45.94 131.20h6.36v6.26h-6.36zM45.94 137.46h12.72v6.26h-12.72zM65.01 137.46h6.36v6.26h-6.36zM65.01 143.72h6.36v6.26h-6.36zM65.01 149.97h6.36v6.26h-6.36zM109.52 181.26h6.36v6.26h-6.36zM96.80 187.52h19.07v6.26h-19.07zM71.37 193.78h6.36v6.26h-6.36zM84.09 193.78h6.36v6.26h-6.36zM103.16 193.78h6.36v6.26h-6.36zM58.66 200.04h12.72v6.26h-12.72zM84.09 200.04h6.36v6.26h-6.36zM65.01 206.30h12.72v6.26h-12.72zM90.45 206.30h6.36v6.26h-6.36zM65.01 212.55h6.36v6.26h-6.36zM84.09 212.55h6.36v6.26h-6.36zM58.66 218.81h6.36v6.26h-6.36zM84.09 218.81h6.36v6.26h-6.36zM77.73 231.33h6.36v6.26h-6.36zM65.01 237.59h6.36v6.26h-6.36z"/><path fill="#bf0000" d="M77.73 43.59h6.36v6.26h-6.36zM52.30 74.88h6.36v6.26h-6.36zM45.94 143.72h12.72v6.26h-12.72zM65.01 156.23h6.36v6.26h-6.36zM77.73 193.78h6.36v6.26h-6.36zM71.37 200.04h12.72v6.26h-12.72zM90.45 200.04h6.36v6.26h-6.36zM77.73 206.30h12.72v6.26h-12.72z"/><path fill="#ff2000" d="M103.16 181.26h6.36v6.26h-6.36zM103.16 200.04h6.36v6.26h-6.36zM96.80 206.30h6.36v6.26h-6.36z"/><path fill="#0000bf" d="M45.94 225.07h6.36v6.26h-6.36zM45.94 231.33h6.36v6.26h-6.36zM45.94 237.59h6.36v6.26h-6.36zM45.94 243.84h6.36v6.26h-6.36z"/></g></g><g clip-path="url(#clipa)" fill="none" stroke="#000"><circle cx="176.6" cy="128.7" r="36" stroke-width="1.4"/><circle cx="176.6" cy="128.7" r="71.5" stroke-width="1.4"/><circle cx="176.6" cy="128.7" r="107.3" stroke-width="1.3" stroke-dasharray="1.2 1.1"/><circle cx="176.6" cy="128.7" r="144" stroke-width="1.3" stroke-dasharray="1.2 1.1"/><line x1="176.6" y1="128.7" x2="202.2" y2="253" stroke-width="1.5"/><rect x="182.1" y="169" width="8" height="6.4" stroke-width="1.6"/><line x1="158.3" y1="207.9" x2="175.5" y2="185.2" stroke-width="1.9"/></g><path d="M180.4 178.6 L171.1 184.4 L177.5 189.3 Z" fill="#000"/><rect x="49.6" y="3.8" width="248.70000000000002" height="249.1" fill="none" stroke="#000" stroke-width="1.2"/><path d="M55.7 3.8v2.4M55.7 252.9v-2.4M62.8 3.8v2.4M62.8 252.9v-2.4M69.9 3.8v2.4M69.9 252.9v-2.4M77.0 3.8v2.4M77.0 252.9v-2.4M84.1 3.8v2.4M84.1 252.9v-2.4M91.2 3.8v2.4M91.2 252.9v-2.4M98.3 3.8v2.4M98.3 252.9v-2.4M105.4 3.8v2.4M105.4 252.9v-2.4M112.5 3.8v2.4M112.5 252.9v-2.4M119.6 3.8v2.4M119.6 252.9v-2.4M126.7 3.8v2.4M126.7 252.9v-2.4M133.8 3.8v2.4M133.8 252.9v-2.4M140.9 3.8v2.4M140.9 252.9v-2.4M148.0 3.8v2.4M148.0 252.9v-2.4M155.1 3.8v2.4M155.1 252.9v-2.4M162.2 3.8v2.4M162.2 252.9v-2.4M169.3 3.8v2.4M169.3 252.9v-2.4M176.4 3.8v2.4M176.4 252.9v-2.4M183.5 3.8v2.4M183.5 252.9v-2.4M190.6 3.8v2.4M190.6 252.9v-2.4M197.7 3.8v2.4M197.7 252.9v-2.4M204.8 3.8v2.4M204.8 252.9v-2.4M211.9 3.8v2.4M211.9 252.9v-2.4M219.0 3.8v2.4M219.0 252.9v-2.4M226.1 3.8v2.4M226.1 252.9v-2.4M233.2 3.8v2.4M233.2 252.9v-2.4M240.3 3.8v2.4M240.3 252.9v-2.4M247.4 3.8v2.4M247.4 252.9v-2.4M254.5 3.8v2.4M254.5 252.9v-2.4M261.6 3.8v2.4M261.6 252.9v-2.4M268.7 3.8v2.4M268.7 252.9v-2.4M275.8 3.8v2.4M275.8 252.9v-2.4M282.9 3.8v2.4M282.9 252.9v-2.4M290.0 3.8v2.4M290.0 252.9v-2.4M297.1 3.8v2.4M297.1 252.9v-2.4M49.6 8.0h2.4M49.6 15.1h2.4M49.6 22.2h2.4M49.6 29.3h2.4M49.6 36.4h2.4M49.6 43.5h2.4M49.6 50.6h2.4M49.6 57.7h2.4M49.6 64.8h2.4M49.6 71.9h2.4M49.6 79.0h2.4M49.6 86.1h2.4M49.6 93.2h2.4M49.6 100.3h2.4M49.6 107.4h2.4M49.6 114.5h2.4M49.6 121.6h2.4M49.6 128.7h2.4M49.6 135.8h2.4M49.6 142.9h2.4M49.6 150.0h2.4M49.6 157.1h2.4M49.6 164.2h2.4M49.6 171.3h2.4M49.6 178.4h2.4M49.6 185.5h2.4M49.6 192.6h2.4M49.6 199.7h2.4M49.6 206.8h2.4M49.6 213.9h2.4M49.6 221.0h2.4M49.6 228.1h2.4M49.6 235.2h2.4M49.6 242.3h2.4M49.6 249.4h2.4" stroke="#000" stroke-width="0.9" fill="none"/><text x="181" y="18.6" font-size="15.5" text-anchor="middle" fill="#000" stroke="#000" stroke-width="0.12">N</text><text x="177.8" y="250.5" font-size="15.5" text-anchor="middle" fill="#000" stroke="#000" stroke-width="0.12">S</text><text x="51.3" y="134.6" font-size="15.5" text-anchor="start" fill="#fff" stroke="#fff" stroke-width="0.12">E</text><text x="286.3" y="134.1" font-size="15.5" text-anchor="start" fill="#000" stroke="#000" stroke-width="0.12" textLength="12.4" lengthAdjust="spacingAndGlyphs">W</text><text x="177.2" y="123.9" font-size="15.5" text-anchor="start" fill="#000" stroke="#000" stroke-width="0.12">90</text><text x="197.3" y="97.3" font-size="15.5" text-anchor="start" fill="#000" stroke="#000" stroke-width="0.12">80</text><text x="222" y="68.9" font-size="15.5" text-anchor="start" fill="#000" stroke="#000" stroke-width="0.12">70</text><text x="248.5" y="40.5" font-size="15.5" text-anchor="start" fill="#000" stroke="#000" stroke-width="0.12">60</text><text x="273.7" y="21.9" font-size="15.5" text-anchor="start" fill="#000" stroke="#000" stroke-width="0.12">50</text><text x="109.6" y="218.2" font-size="15.2" text-anchor="start" fill="#000" stroke="#000" stroke-width="0.12" textLength="118.3" lengthAdjust="spacingAndGlyphs">geomagnetic zenith</text><text x="109.6" y="235.4" font-size="15.2" text-anchor="start" fill="#000" stroke="#000" stroke-width="0.12" textLength="86.7" lengthAdjust="spacingAndGlyphs">(77.6° 190.9°)</text><text x="16.2" y="20.6" font-size="17.8" text-anchor="start" fill="#13306e" stroke="#13306e" stroke-width="0.12">(a)</text><rect x="298.3" y="236.29" width="4.699999999999989" height="16.91" fill="#0000bf"/><rect x="298.3" y="219.69" width="4.699999999999989" height="16.91" fill="#0000ff"/><rect x="298.3" y="203.08" width="4.699999999999989" height="16.91" fill="#0040ff"/><rect x="298.3" y="186.47" width="4.699999999999989" height="16.91" fill="#0080ff"/><rect x="298.3" y="169.87" width="4.699999999999989" height="16.91" fill="#00bfff"/><rect x="298.3" y="153.26" width="4.699999999999989" height="16.91" fill="#00ffff"/><rect x="298.3" y="136.65" width="4.699999999999989" height="16.91" fill="#40ffbf"/><rect x="298.3" y="120.05" width="4.699999999999989" height="16.91" fill="#80ff80"/><rect x="298.3" y="103.44" width="4.699999999999989" height="16.91" fill="#bfff40"/><rect x="298.3" y="86.83" width="4.699999999999989" height="16.91" fill="#ffff00"/><rect x="298.3" y="70.23" width="4.699999999999989" height="16.91" fill="#ffbf00"/><rect x="298.3" y="53.62" width="4.699999999999989" height="16.91" fill="#ff8000"/><rect x="298.3" y="37.01" width="4.699999999999989" height="16.91" fill="#ff4000"/><rect x="298.3" y="20.41" width="4.699999999999989" height="16.91" fill="#ff0000"/><rect x="298.3" y="3.80" width="4.699999999999989" height="16.91" fill="#bf0000"/><rect x="298.3" y="3.8" width="4.699999999999989" height="249.1" fill="none" stroke="#000" stroke-width="1"/><path d="M303.0 12.10h-1.6M303.0 20.41h-1.6M303.0 28.71h-1.6M303.0 37.01h-1.6M303.0 45.32h-1.6M303.0 53.62h-1.6M303.0 61.92h-1.6M303.0 70.23h-1.6M303.0 78.53h-1.6M303.0 86.83h-1.6M303.0 95.14h-1.6M303.0 103.44h-1.6M303.0 111.74h-1.6M303.0 120.05h-1.6M303.0 128.35h-1.6M303.0 136.65h-1.6M303.0 144.96h-1.6M303.0 153.26h-1.6M303.0 161.56h-1.6M303.0 169.87h-1.6M303.0 178.17h-1.6M303.0 186.47h-1.6M303.0 194.78h-1.6M303.0 203.08h-1.6M303.0 211.38h-1.6M303.0 219.69h-1.6M303.0 227.99h-1.6M303.0 236.29h-1.6M303.0 244.60h-1.6" stroke="#000" stroke-width="0.9"/><text x="304.3" y="25.099999999999998" font-size="15.5" text-anchor="start" fill="#000" stroke="#000" stroke-width="0.12">1.4</text><path d="M303.0 19.9h-2.5" stroke="#000" stroke-width="1"/><text x="304.3" y="57.6" font-size="15.5" text-anchor="start" fill="#000" stroke="#000" stroke-width="0.12">1.2</text><path d="M303.0 52.4h-2.5" stroke="#000" stroke-width="1"/><text x="304.3" y="92.7" font-size="15.5" text-anchor="start" fill="#000" stroke="#000" stroke-width="0.12">1.0</text><path d="M303.0 87.5h-2.5" stroke="#000" stroke-width="1"/><text x="304.3" y="126.2" font-size="15.5" text-anchor="start" fill="#000" stroke="#000" stroke-width="0.12">0.8</text><path d="M303.0 121h-2.5" stroke="#000" stroke-width="1"/><text x="304.3" y="160.89999999999998" font-size="15.5" text-anchor="start" fill="#000" stroke="#000" stroke-width="0.12">0.6</text><path d="M303.0 155.7h-2.5" stroke="#000" stroke-width="1"/><text x="304.3" y="194.0" font-size="15.5" text-anchor="start" fill="#000" stroke="#000" stroke-width="0.12">0.4</text><path d="M303.0 188.8h-2.5" stroke="#000" stroke-width="1"/><text x="304.3" y="229.0" font-size="15.5" text-anchor="start" fill="#000" stroke="#000" stroke-width="0.12">0.2</text><path d="M303.0 223.8h-2.5" stroke="#000" stroke-width="1"/><text x="304.3" y="258.7" font-size="15.5" text-anchor="start" fill="#000" stroke="#000" stroke-width="0.12">0.0</text><path d="M303.0 253.5h-2.5" stroke="#000" stroke-width="1"/><text transform="translate(338.5,125.1) rotate(-90)" font-size="15.2" text-anchor="middle" stroke="#000" stroke-width="0.12" textLength="141" lengthAdjust="spacingAndGlyphs">I(630.0nm)/I(427.8nm)</text><clipPath id="clipb"><rect x="395.6" y="3.8" width="248.69999999999993" height="249.1"/></clipPath><filter id="blclipb" x="-5%" y="-5%" width="110%" height="110%"><feGaussianBlur stdDeviation="0.55"/></filter><g clip-path="url(#clipb)"><g filter="url(#blclipb)" shape-rendering="crispEdges"><path fill="#00aaff" d="M391.94 0.80h6.36v11.50h-6.36zM391.94 12.30h6.36v6.26h-6.36zM391.94 18.56h6.36v6.26h-6.36zM391.94 37.33h12.72v6.26h-12.72zM391.94 43.59h6.36v6.26h-6.36zM391.94 49.85h6.36v6.26h-6.36zM391.94 56.10h6.36v6.26h-6.36zM391.94 62.36h6.36v6.26h-6.36zM391.94 68.62h6.36v6.26h-6.36zM391.94 74.88h6.36v6.26h-6.36zM391.94 81.14h6.36v6.26h-6.36zM391.94 87.39h6.36v6.26h-6.36zM391.94 93.65h6.36v6.26h-6.36zM391.94 99.91h6.36v6.26h-6.36zM391.94 118.68h6.36v6.26h-6.36zM398.30 162.49h6.36v6.26h-6.36zM398.30 168.75h6.36v6.26h-6.36z"/><path fill="#00ccff" d="M398.30 0.80h6.36v11.50h-6.36zM398.30 12.30h6.36v6.26h-6.36zM398.30 18.56h6.36v6.26h-6.36zM398.30 24.81h6.36v6.26h-6.36zM398.30 31.07h6.36v6.26h-6.36zM391.94 106.17h6.36v6.26h-6.36zM391.94 112.43h6.36v6.26h-6.36zM391.94 124.94h6.36v6.26h-6.36zM391.94 162.49h6.36v6.26h-6.36zM391.94 168.75h6.36v6.26h-6.36zM391.94 175.01h6.36v6.26h-6.36zM391.94 181.26h12.72v6.26h-12.72zM391.94 187.52h6.36v6.26h-6.36zM391.94 193.78h6.36v6.26h-6.36zM391.94 225.07h12.72v6.26h-12.72z"/><path fill="#33ffcc" d="M404.66 0.80h6.36v11.50h-6.36zM404.66 12.30h6.36v6.26h-6.36zM404.66 18.56h6.36v6.26h-6.36zM404.66 24.81h6.36v6.26h-6.36zM404.66 31.07h6.36v6.26h-6.36zM423.73 31.07h6.36v6.26h-6.36zM404.66 37.33h6.36v6.26h-6.36zM398.30 43.59h12.72v6.26h-12.72zM398.30 49.85h6.36v6.26h-6.36zM398.30 62.36h6.36v6.26h-6.36zM398.30 68.62h12.72v6.26h-12.72zM398.30 74.88h12.72v6.26h-12.72zM398.30 81.14h12.72v6.26h-12.72zM398.30 87.39h12.72v6.26h-12.72zM398.30 93.65h12.72v6.26h-12.72zM398.30 99.91h19.07v6.26h-19.07zM398.30 106.17h19.07v6.26h-19.07zM398.30 112.43h12.72v6.26h-12.72zM398.30 118.68h12.72v6.26h-12.72zM398.30 124.94h19.07v6.26h-19.07zM391.94 131.20h19.07v6.26h-19.07zM391.94 137.46h19.07v6.26h-19.07zM391.94 143.72h12.72v6.26h-12.72zM391.94 149.97h12.72v6.26h-12.72zM398.30 156.23h6.36v6.26h-6.36zM404.66 162.49h6.36v6.26h-6.36zM404.66 168.75h6.36v6.26h-6.36zM404.66 175.01h6.36v6.26h-6.36zM404.66 181.26h6.36v6.26h-6.36zM398.30 193.78h12.72v6.26h-12.72zM417.37 193.78h6.36v6.26h-6.36zM430.09 193.78h6.36v6.26h-6.36zM391.94 200.04h38.15v6.26h-38.15zM391.94 206.30h6.36v6.26h-6.36zM404.66 206.30h6.36v6.26h-6.36zM391.94 212.55h12.72v6.26h-12.72zM417.37 212.55h6.36v6.26h-6.36zM391.94 218.81h6.36v6.26h-6.36zM423.73 218.81h6.36v6.26h-6.36zM417.37 225.07h6.36v6.26h-6.36zM398.30 231.33h6.36v6.26h-6.36z"/><path fill="#88ff77" d="M411.01 0.80h6.36v11.50h-6.36zM423.73 0.80h12.72v11.50h-12.72zM411.01 12.30h6.36v6.26h-6.36zM423.73 12.30h12.72v6.26h-12.72zM411.01 18.56h6.36v6.26h-6.36zM423.73 18.56h12.72v6.26h-12.72zM423.73 24.81h12.72v6.26h-12.72zM411.01 31.07h12.72v6.26h-12.72zM430.09 31.07h6.36v6.26h-6.36zM411.01 37.33h6.36v6.26h-6.36zM423.73 37.33h6.36v6.26h-6.36zM417.37 49.85h12.72v6.26h-12.72zM411.01 56.10h6.36v6.26h-6.36zM423.73 56.10h6.36v6.26h-6.36zM404.66 62.36h6.36v6.26h-6.36zM417.37 62.36h6.36v6.26h-6.36zM411.01 68.62h12.72v6.26h-12.72zM417.37 74.88h6.36v6.26h-6.36zM417.37 81.14h6.36v6.26h-6.36zM417.37 87.39h12.72v6.26h-12.72zM417.37 93.65h12.72v6.26h-12.72zM417.37 106.17h6.36v6.26h-6.36zM417.37 112.43h6.36v6.26h-6.36zM417.37 118.68h6.36v6.26h-6.36zM417.37 124.94h6.36v6.26h-6.36zM417.37 131.20h6.36v6.26h-6.36zM417.37 137.46h6.36v6.26h-6.36zM411.01 143.72h6.36v6.26h-6.36zM411.01 149.97h6.36v6.26h-6.36zM411.01 156.23h6.36v6.26h-6.36zM411.01 162.49h6.36v6.26h-6.36zM411.01 168.75h6.36v6.26h-6.36zM455.52 168.75h6.36v6.26h-6.36zM411.01 175.01h6.36v6.26h-6.36zM449.16 175.01h6.36v6.26h-6.36zM411.01 181.26h12.72v6.26h-12.72zM436.45 181.26h19.07v6.26h-19.07zM461.88 181.26h6.36v6.26h-6.36zM411.01 187.52h12.72v6.26h-12.72zM430.09 187.52h25.43v6.26h-25.43zM461.88 187.52h6.36v6.26h-6.36zM436.45 193.78h19.07v6.26h-19.07zM436.45 200.04h12.72v6.26h-12.72zM423.73 206.30h38.15v6.26h-38.15zM404.66 212.55h6.36v6.26h-6.36zM430.09 212.55h19.07v6.26h-19.07zM404.66 218.81h12.72v6.26h-12.72zM430.09 218.81h12.72v6.26h-12.72zM404.66 225.07h12.72v6.26h-12.72zM430.09 225.07h6.36v6.26h-6.36zM404.66 231.33h12.72v6.26h-12.72zM423.73 231.33h6.36v6.26h-6.36zM404.66 237.59h12.72v6.26h-12.72zM404.66 243.84h6.36v6.26h-6.36zM449.16 243.84h6.36v6.26h-6.36zM398.30 250.10h12.72v6.26h-12.72zM449.16 250.10h6.36v6.26h-6.36z"/><path fill="#a6ff59" d="M417.37 0.80h6.36v11.50h-6.36zM436.45 0.80h12.72v11.50h-12.72zM417.37 12.30h6.36v6.26h-6.36zM417.37 18.56h6.36v6.26h-6.36zM411.01 24.81h12.72v6.26h-12.72zM436.45 31.07h6.36v6.26h-6.36zM411.01 43.59h12.72v6.26h-12.72zM411.01 49.85h6.36v6.26h-6.36zM569.96 49.85h12.72v6.26h-12.72zM417.37 56.10h6.36v6.26h-6.36zM430.09 56.10h6.36v6.26h-6.36zM569.96 56.10h12.72v6.26h-12.72zM411.01 62.36h6.36v6.26h-6.36zM423.73 62.36h6.36v6.26h-6.36zM569.96 62.36h19.07v6.26h-19.07zM423.73 68.62h6.36v6.26h-6.36zM436.45 68.62h6.36v6.26h-6.36zM563.61 68.62h25.43v6.26h-25.43zM423.73 74.88h6.36v6.26h-6.36zM436.45 74.88h6.36v6.26h-6.36zM563.61 74.88h25.43v6.26h-25.43zM423.73 81.14h6.36v6.26h-6.36zM500.03 81.14h6.36v6.26h-6.36zM569.96 81.14h19.07v6.26h-19.07zM430.09 87.39h6.36v6.26h-6.36zM500.03 87.39h6.36v6.26h-6.36zM569.96 87.39h19.07v6.26h-19.07zM569.96 93.65h19.07v6.26h-19.07zM582.68 99.91h6.36v6.26h-6.36zM493.67 106.17h6.36v6.26h-6.36zM417.37 143.72h6.36v6.26h-6.36zM480.95 143.72h6.36v6.26h-6.36zM417.37 149.97h6.36v6.26h-6.36zM474.59 149.97h12.72v6.26h-12.72zM417.37 156.23h6.36v6.26h-6.36zM455.52 156.23h6.36v6.26h-6.36zM468.24 156.23h12.72v6.26h-12.72zM417.37 162.49h6.36v6.26h-6.36zM442.80 162.49h25.43v6.26h-25.43zM474.59 162.49h6.36v6.26h-6.36zM417.37 168.75h6.36v6.26h-6.36zM436.45 168.75h19.07v6.26h-19.07zM461.88 168.75h6.36v6.26h-6.36zM474.59 168.75h6.36v6.26h-6.36zM417.37 175.01h31.79v6.26h-31.79zM461.88 175.01h6.36v6.26h-6.36zM423.73 181.26h12.72v6.26h-12.72zM423.73 187.52h6.36v6.26h-6.36zM449.16 200.04h6.36v6.26h-6.36zM449.16 218.81h6.36v6.26h-6.36zM423.73 237.59h6.36v6.26h-6.36zM449.16 237.59h6.36v6.26h-6.36zM411.01 243.84h6.36v6.26h-6.36zM442.80 243.84h6.36v6.26h-6.36zM411.01 250.10h6.36v6.26h-6.36zM430.09 250.10h19.07v6.26h-19.07z"/><path fill="#ffe800" d="M449.16 0.80h6.36v11.50h-6.36zM436.45 12.30h6.36v6.26h-6.36zM449.16 12.30h6.36v6.26h-6.36zM436.45 18.56h6.36v6.26h-6.36zM449.16 18.56h6.36v6.26h-6.36zM449.16 24.81h6.36v6.26h-6.36zM442.80 31.07h12.72v6.26h-12.72zM569.96 31.07h6.36v6.26h-6.36zM436.45 37.33h6.36v6.26h-6.36zM449.16 37.33h6.36v6.26h-6.36zM576.32 37.33h6.36v6.26h-6.36zM449.16 43.59h6.36v6.26h-6.36zM430.09 62.36h6.36v6.26h-6.36zM589.04 62.36h6.36v6.26h-6.36zM474.59 68.62h19.07v6.26h-19.07zM506.38 68.62h6.36v6.26h-6.36zM557.25 68.62h6.36v6.26h-6.36zM589.04 68.62h6.36v6.26h-6.36zM474.59 74.88h6.36v6.26h-6.36zM487.31 74.88h12.72v6.26h-12.72zM506.38 74.88h6.36v6.26h-6.36zM557.25 74.88h6.36v6.26h-6.36zM589.04 74.88h6.36v6.26h-6.36zM474.59 81.14h6.36v6.26h-6.36zM487.31 81.14h6.36v6.26h-6.36zM589.04 81.14h6.36v6.26h-6.36zM468.24 87.39h12.72v6.26h-12.72zM506.38 87.39h6.36v6.26h-6.36zM468.24 93.65h19.07v6.26h-19.07zM500.03 93.65h12.72v6.26h-12.72zM589.04 93.65h6.36v6.26h-6.36zM430.09 99.91h6.36v6.26h-6.36zM474.59 99.91h6.36v6.26h-6.36zM506.38 99.91h6.36v6.26h-6.36zM557.25 99.91h12.72v6.26h-12.72zM589.04 99.91h6.36v6.26h-6.36zM430.09 106.17h6.36v6.26h-6.36zM474.59 106.17h6.36v6.26h-6.36zM506.38 106.17h6.36v6.26h-6.36zM563.61 106.17h12.72v6.26h-12.72zM589.04 106.17h12.72v6.26h-12.72zM468.24 112.43h19.07v6.26h-19.07zM493.67 112.43h12.72v6.26h-12.72zM563.61 112.43h19.07v6.26h-19.07zM589.04 112.43h12.72v6.26h-12.72zM468.24 118.68h38.15v6.26h-38.15zM563.61 118.68h31.79v6.26h-31.79zM430.09 124.94h6.36v6.26h-6.36zM468.24 124.94h12.72v6.26h-12.72zM487.31 124.94h12.72v6.26h-12.72zM563.61 124.94h25.43v6.26h-25.43zM430.09 131.20h6.36v6.26h-6.36zM468.24 131.20h19.07v6.26h-19.07zM493.67 131.20h12.72v6.26h-12.72zM430.09 137.46h12.72v6.26h-12.72zM455.52 137.46h19.07v6.26h-19.07zM500.03 137.46h6.36v6.26h-6.36zM430.09 143.72h19.07v6.26h-19.07zM493.67 143.72h6.36v6.26h-6.36zM423.73 149.97h31.79v6.26h-31.79zM493.67 149.97h6.36v6.26h-6.36zM423.73 156.23h19.07v6.26h-19.07zM487.31 156.23h6.36v6.26h-6.36zM423.73 162.49h12.72v6.26h-12.72zM487.31 162.49h6.36v6.26h-6.36zM480.95 175.01h6.36v6.26h-6.36zM468.24 187.52h12.72v6.26h-12.72zM468.24 193.78h6.36v6.26h-6.36zM468.24 200.04h6.36v6.26h-6.36zM468.24 206.30h6.36v6.26h-6.36zM461.88 212.55h6.36v6.26h-6.36zM461.88 218.81h6.36v6.26h-6.36zM442.80 225.07h6.36v6.26h-6.36zM455.52 225.07h12.72v6.26h-12.72zM436.45 231.33h12.72v6.26h-12.72zM455.52 231.33h6.36v6.26h-6.36zM436.45 237.59h12.72v6.26h-12.72zM455.52 237.59h6.36v6.26h-6.36zM519.10 237.59h6.36v6.26h-6.36zM531.82 237.59h6.36v6.26h-6.36zM423.73 243.84h6.36v6.26h-6.36zM455.52 243.84h6.36v6.26h-6.36zM519.10 243.84h6.36v6.26h-6.36zM531.82 243.84h6.36v6.26h-6.36zM423.73 250.10h6.36v6.26h-6.36zM461.88 250.10h6.36v6.26h-6.36zM500.03 250.10h31.79v6.26h-31.79z"/><path fill="#ffcc00" d="M455.52 0.80h6.36v11.50h-6.36zM493.67 0.80h6.36v11.50h-6.36zM493.67 12.30h12.72v6.26h-12.72zM487.31 18.56h12.72v6.26h-12.72zM468.24 24.81h6.36v6.26h-6.36zM487.31 24.81h12.72v6.26h-12.72zM461.88 31.07h19.07v6.26h-19.07zM576.32 31.07h6.36v6.26h-6.36zM468.24 37.33h19.07v6.26h-19.07zM500.03 37.33h6.36v6.26h-6.36zM455.52 43.59h6.36v6.26h-6.36zM468.24 43.59h38.15v6.26h-38.15zM531.82 43.59h6.36v6.26h-6.36zM468.24 49.85h31.79v6.26h-31.79zM531.82 49.85h6.36v6.26h-6.36zM582.68 49.85h6.36v6.26h-6.36zM474.59 56.10h31.79v6.26h-31.79zM557.25 56.10h6.36v6.26h-6.36zM589.04 56.10h6.36v6.26h-6.36zM474.59 62.36h25.43v6.26h-25.43zM506.38 62.36h6.36v6.26h-6.36zM531.82 62.36h12.72v6.26h-12.72zM557.25 62.36h12.72v6.26h-12.72zM468.24 68.62h6.36v6.26h-6.36zM468.24 74.88h6.36v6.26h-6.36zM468.24 81.14h6.36v6.26h-6.36zM557.25 81.14h6.36v6.26h-6.36zM595.40 81.14h6.36v6.26h-6.36zM557.25 87.39h6.36v6.26h-6.36zM589.04 87.39h12.72v6.26h-12.72zM557.25 93.65h6.36v6.26h-6.36zM595.40 93.65h6.36v6.26h-6.36zM468.24 99.91h6.36v6.26h-6.36zM595.40 99.91h6.36v6.26h-6.36zM468.24 106.17h6.36v6.26h-6.36zM557.25 106.17h6.36v6.26h-6.36zM430.09 112.43h6.36v6.26h-6.36zM461.88 112.43h6.36v6.26h-6.36zM430.09 118.68h6.36v6.26h-6.36zM461.88 118.68h6.36v6.26h-6.36zM461.88 124.94h6.36v6.26h-6.36zM480.95 124.94h6.36v6.26h-6.36zM500.03 124.94h6.36v6.26h-6.36zM589.04 124.94h6.36v6.26h-6.36zM461.88 131.20h6.36v6.26h-6.36zM569.96 131.20h19.07v6.26h-19.07zM576.32 137.46h6.36v6.26h-6.36zM531.82 231.33h6.36v6.26h-6.36zM506.38 237.59h6.36v6.26h-6.36zM525.46 237.59h6.36v6.26h-6.36zM544.53 237.59h6.36v6.26h-6.36zM500.03 243.84h19.07v6.26h-19.07zM525.46 243.84h6.36v6.26h-6.36zM544.53 243.84h6.36v6.26h-6.36zM563.61 243.84h6.36v6.26h-6.36zM531.82 250.10h12.72v6.26h-12.72z"/><path fill="#ffa200" d="M461.88 0.80h31.79v11.50h-31.79zM500.03 0.80h12.72v11.50h-12.72zM557.25 0.80h6.36v11.50h-6.36zM442.80 12.30h6.36v6.26h-6.36zM455.52 12.30h38.15v6.26h-38.15zM506.38 12.30h6.36v6.26h-6.36zM550.89 12.30h6.36v6.26h-6.36zM569.96 12.30h6.36v6.26h-6.36zM442.80 18.56h6.36v6.26h-6.36zM455.52 18.56h31.79v6.26h-31.79zM500.03 18.56h12.72v6.26h-12.72zM569.96 18.56h12.72v6.26h-12.72zM442.80 24.81h6.36v6.26h-6.36zM455.52 24.81h12.72v6.26h-12.72zM474.59 24.81h12.72v6.26h-12.72zM500.03 24.81h12.72v6.26h-12.72zM538.17 24.81h12.72v6.26h-12.72zM569.96 24.81h12.72v6.26h-12.72zM455.52 31.07h6.36v6.26h-6.36zM480.95 31.07h31.79v6.26h-31.79zM525.46 31.07h19.07v6.26h-19.07zM563.61 31.07h6.36v6.26h-6.36zM582.68 31.07h6.36v6.26h-6.36zM442.80 37.33h6.36v6.26h-6.36zM455.52 37.33h12.72v6.26h-12.72zM487.31 37.33h12.72v6.26h-12.72zM506.38 37.33h6.36v6.26h-6.36zM525.46 37.33h12.72v6.26h-12.72zM563.61 37.33h6.36v6.26h-6.36zM436.45 43.59h12.72v6.26h-12.72zM461.88 43.59h6.36v6.26h-6.36zM506.38 43.59h6.36v6.26h-6.36zM519.10 43.59h12.72v6.26h-12.72zM538.17 43.59h6.36v6.26h-6.36zM563.61 43.59h6.36v6.26h-6.36zM582.68 43.59h6.36v6.26h-6.36zM436.45 49.85h31.79v6.26h-31.79zM500.03 49.85h12.72v6.26h-12.72zM519.10 49.85h12.72v6.26h-12.72zM538.17 49.85h12.72v6.26h-12.72zM557.25 49.85h12.72v6.26h-12.72zM589.04 49.85h6.36v6.26h-6.36zM436.45 56.10h38.15v6.26h-38.15zM506.38 56.10h6.36v6.26h-6.36zM519.10 56.10h38.15v6.26h-38.15zM563.61 56.10h6.36v6.26h-6.36zM436.45 62.36h38.15v6.26h-38.15zM519.10 62.36h12.72v6.26h-12.72zM544.53 62.36h12.72v6.26h-12.72zM442.80 68.62h25.43v6.26h-25.43zM519.10 68.62h38.15v6.26h-38.15zM442.80 74.88h25.43v6.26h-25.43zM519.10 74.88h38.15v6.26h-38.15zM442.80 81.14h25.43v6.26h-25.43zM531.82 81.14h25.43v6.26h-25.43zM442.80 87.39h25.43v6.26h-25.43zM531.82 87.39h25.43v6.26h-25.43zM436.45 93.65h31.79v6.26h-31.79zM531.82 93.65h25.43v6.26h-25.43zM436.45 99.91h31.79v6.26h-31.79zM531.82 99.91h25.43v6.26h-25.43zM436.45 106.17h31.79v6.26h-31.79zM531.82 106.17h25.43v6.26h-25.43zM436.45 112.43h25.43v6.26h-25.43zM506.38 112.43h6.36v6.26h-6.36zM531.82 112.43h31.79v6.26h-31.79zM436.45 118.68h25.43v6.26h-25.43zM506.38 118.68h6.36v6.26h-6.36zM531.82 118.68h31.79v6.26h-31.79zM595.40 118.68h6.36v6.26h-6.36zM436.45 124.94h25.43v6.26h-25.43zM506.38 124.94h6.36v6.26h-6.36zM538.17 124.94h25.43v6.26h-25.43zM595.40 124.94h6.36v6.26h-6.36zM436.45 131.20h25.43v6.26h-25.43zM506.38 131.20h6.36v6.26h-6.36zM525.46 131.20h44.51v6.26h-44.51zM589.04 131.20h12.72v6.26h-12.72zM442.80 137.46h12.72v6.26h-12.72zM506.38 137.46h6.36v6.26h-6.36zM525.46 137.46h19.07v6.26h-19.07zM550.89 137.46h25.43v6.26h-25.43zM582.68 137.46h19.07v6.26h-19.07zM449.16 143.72h6.36v6.26h-6.36zM500.03 143.72h6.36v6.26h-6.36zM519.10 143.72h69.94v6.26h-69.94zM595.40 143.72h6.36v6.26h-6.36zM500.03 149.97h6.36v6.26h-6.36zM525.46 149.97h44.51v6.26h-44.51zM576.32 149.97h19.07v6.26h-19.07zM608.11 149.97h6.36v6.26h-6.36zM493.67 156.23h6.36v6.26h-6.36zM525.46 156.23h12.72v6.26h-12.72zM563.61 156.23h12.72v6.26h-12.72zM601.75 156.23h6.36v6.26h-6.36zM620.83 156.23h6.36v6.26h-6.36zM639.90 156.23h6.36v6.26h-6.36zM614.47 162.49h6.36v6.26h-6.36zM633.54 162.49h6.36v6.26h-6.36zM487.31 168.75h6.36v6.26h-6.36zM608.11 168.75h6.36v6.26h-6.36zM627.19 168.75h6.36v6.26h-6.36zM620.83 175.01h6.36v6.26h-6.36zM639.90 175.01h6.36v6.26h-6.36zM480.95 181.26h6.36v6.26h-6.36zM500.03 181.26h6.36v6.26h-6.36zM614.47 181.26h6.36v6.26h-6.36zM633.54 181.26h6.36v6.26h-6.36zM480.95 187.52h6.36v6.26h-6.36zM506.38 187.52h12.72v6.26h-12.72zM627.19 187.52h6.36v6.26h-6.36zM474.59 193.78h12.72v6.26h-12.72zM493.67 193.78h19.07v6.26h-19.07zM639.90 193.78h6.36v6.26h-6.36zM474.59 200.04h12.72v6.26h-12.72zM493.67 200.04h19.07v6.26h-19.07zM633.54 200.04h6.36v6.26h-6.36zM474.59 206.30h12.72v6.26h-12.72zM493.67 206.30h12.72v6.26h-12.72zM468.24 212.55h38.15v6.26h-38.15zM557.25 212.55h12.72v6.26h-12.72zM639.90 212.55h6.36v6.26h-6.36zM468.24 218.81h38.15v6.26h-38.15zM519.10 218.81h6.36v6.26h-6.36zM531.82 218.81h44.51v6.26h-44.51zM468.24 225.07h12.72v6.26h-12.72zM493.67 225.07h19.07v6.26h-19.07zM519.10 225.07h19.07v6.26h-19.07zM544.53 225.07h38.15v6.26h-38.15zM461.88 231.33h19.07v6.26h-19.07zM493.67 231.33h38.15v6.26h-38.15zM538.17 231.33h50.86v6.26h-50.86zM639.90 231.33h6.36v6.26h-6.36zM461.88 237.59h19.07v6.26h-19.07zM493.67 237.59h12.72v6.26h-12.72zM512.74 237.59h6.36v6.26h-6.36zM538.17 237.59h6.36v6.26h-6.36zM550.89 237.59h38.15v6.26h-38.15zM461.88 243.84h38.15v6.26h-38.15zM538.17 243.84h6.36v6.26h-6.36zM550.89 243.84h12.72v6.26h-12.72zM569.96 243.84h25.43v6.26h-25.43zM468.24 250.10h31.79v6.26h-31.79zM544.53 250.10h44.51v6.26h-44.51z"/><path fill="#ff6000" d="M512.74 0.80h25.43v11.50h-25.43zM563.61 0.80h6.36v11.50h-6.36zM582.68 0.80h12.72v11.50h-12.72zM608.11 0.80h12.72v11.50h-12.72zM627.19 0.80h19.07v11.50h-19.07zM512.74 12.30h31.79v6.26h-31.79zM582.68 12.30h6.36v6.26h-6.36zM595.40 12.30h19.07v6.26h-19.07zM620.83 12.30h12.72v6.26h-12.72zM512.74 18.56h6.36v6.26h-6.36zM525.46 18.56h6.36v6.26h-6.36zM595.40 18.56h6.36v6.26h-6.36zM614.47 18.56h19.07v6.26h-19.07zM512.74 24.81h6.36v6.26h-6.36zM595.40 24.81h6.36v6.26h-6.36zM608.11 24.81h19.07v6.26h-19.07zM633.54 24.81h6.36v6.26h-6.36zM512.74 31.07h6.36v6.26h-6.36zM601.75 31.07h19.07v6.26h-19.07zM627.19 31.07h12.72v6.26h-12.72zM512.74 37.33h6.36v6.26h-6.36zM595.40 37.33h19.07v6.26h-19.07zM620.83 37.33h19.07v6.26h-19.07zM512.74 43.59h6.36v6.26h-6.36zM595.40 43.59h12.72v6.26h-12.72zM614.47 43.59h19.07v6.26h-19.07zM639.90 43.59h6.36v6.26h-6.36zM512.74 49.85h6.36v6.26h-6.36zM595.40 49.85h6.36v6.26h-6.36zM608.11 49.85h19.07v6.26h-19.07zM633.54 49.85h12.72v6.26h-12.72zM512.74 56.10h6.36v6.26h-6.36zM595.40 56.10h6.36v6.26h-6.36zM608.11 56.10h12.72v6.26h-12.72zM633.54 56.10h12.72v6.26h-12.72zM512.74 62.36h6.36v6.26h-6.36zM608.11 62.36h12.72v6.26h-12.72zM633.54 62.36h12.72v6.26h-12.72zM512.74 68.62h6.36v6.26h-6.36zM608.11 68.62h6.36v6.26h-6.36zM639.90 68.62h6.36v6.26h-6.36zM512.74 74.88h6.36v6.26h-6.36zM608.11 74.88h6.36v6.26h-6.36zM512.74 81.14h6.36v6.26h-6.36zM608.11 81.14h6.36v6.26h-6.36zM512.74 87.39h6.36v6.26h-6.36zM608.11 87.39h6.36v6.26h-6.36zM512.74 93.65h12.72v6.26h-12.72zM608.11 93.65h6.36v6.26h-6.36zM512.74 99.91h12.72v6.26h-12.72zM608.11 99.91h6.36v6.26h-6.36zM512.74 106.17h12.72v6.26h-12.72zM608.11 106.17h6.36v6.26h-6.36zM512.74 112.43h12.72v6.26h-12.72zM608.11 112.43h6.36v6.26h-6.36zM512.74 118.68h12.72v6.26h-12.72zM608.11 118.68h6.36v6.26h-6.36zM512.74 124.94h12.72v6.26h-12.72zM608.11 124.94h6.36v6.26h-6.36zM512.74 131.20h6.36v6.26h-6.36zM608.11 131.20h6.36v6.26h-6.36zM544.53 137.46h6.36v6.26h-6.36zM608.11 137.46h12.72v6.26h-12.72zM633.54 137.46h12.72v6.26h-12.72zM627.19 143.72h6.36v6.26h-6.36zM639.90 143.72h6.36v6.26h-6.36zM512.74 149.97h6.36v6.26h-6.36zM569.96 149.97h6.36v6.26h-6.36zM633.54 149.97h6.36v6.26h-6.36zM506.38 156.23h6.36v6.26h-6.36zM538.17 156.23h12.72v6.26h-12.72zM557.25 156.23h6.36v6.26h-6.36zM576.32 156.23h12.72v6.26h-12.72zM506.38 162.49h6.36v6.26h-6.36zM525.46 162.49h38.15v6.26h-38.15zM569.96 162.49h19.07v6.26h-19.07zM525.46 168.75h31.79v6.26h-31.79zM569.96 168.75h25.43v6.26h-25.43zM500.03 175.01h6.36v6.26h-6.36zM525.46 175.01h31.79v6.26h-31.79zM576.32 175.01h19.07v6.26h-19.07zM525.46 181.26h31.79v6.26h-31.79zM582.68 181.26h19.07v6.26h-19.07zM525.46 187.52h38.15v6.26h-38.15zM576.32 187.52h25.43v6.26h-25.43zM525.46 193.78h38.15v6.26h-38.15zM569.96 193.78h19.07v6.26h-19.07zM608.11 193.78h6.36v6.26h-6.36zM525.46 200.04h63.58v6.26h-63.58zM595.40 200.04h6.36v6.26h-6.36zM608.11 200.04h6.36v6.26h-6.36zM525.46 206.30h69.94v6.26h-69.94zM601.75 206.30h6.36v6.26h-6.36zM512.74 212.55h6.36v6.26h-6.36zM525.46 212.55h31.79v6.26h-31.79zM569.96 212.55h19.07v6.26h-19.07zM601.75 212.55h6.36v6.26h-6.36zM512.74 218.81h6.36v6.26h-6.36zM582.68 218.81h19.07v6.26h-19.07zM614.47 218.81h6.36v6.26h-6.36zM487.31 237.59h6.36v6.26h-6.36zM627.19 237.59h6.36v6.26h-6.36zM627.19 243.84h12.72v6.26h-12.72zM633.54 250.10h6.36v6.26h-6.36z"/><path fill="#ff8000" d="M538.17 0.80h19.07v11.50h-19.07zM569.96 0.80h12.72v11.50h-12.72zM544.53 12.30h6.36v6.26h-6.36zM557.25 12.30h12.72v6.26h-12.72zM576.32 12.30h6.36v6.26h-6.36zM589.04 12.30h6.36v6.26h-6.36zM633.54 12.30h6.36v6.26h-6.36zM519.10 18.56h6.36v6.26h-6.36zM531.82 18.56h38.15v6.26h-38.15zM582.68 18.56h12.72v6.26h-12.72zM633.54 18.56h12.72v6.26h-12.72zM519.10 24.81h19.07v6.26h-19.07zM550.89 24.81h19.07v6.26h-19.07zM582.68 24.81h12.72v6.26h-12.72zM639.90 24.81h6.36v6.26h-6.36zM519.10 31.07h6.36v6.26h-6.36zM544.53 31.07h19.07v6.26h-19.07zM589.04 31.07h6.36v6.26h-6.36zM639.90 31.07h6.36v6.26h-6.36zM519.10 37.33h6.36v6.26h-6.36zM538.17 37.33h25.43v6.26h-25.43zM582.68 37.33h12.72v6.26h-12.72zM544.53 43.59h19.07v6.26h-19.07zM589.04 43.59h6.36v6.26h-6.36zM550.89 49.85h6.36v6.26h-6.36zM601.75 56.10h6.36v6.26h-6.36zM595.40 62.36h12.72v6.26h-12.72zM595.40 68.62h12.72v6.26h-12.72zM595.40 74.88h12.72v6.26h-12.72zM519.10 81.14h12.72v6.26h-12.72zM601.75 81.14h6.36v6.26h-6.36zM519.10 87.39h12.72v6.26h-12.72zM601.75 87.39h6.36v6.26h-6.36zM525.46 93.65h6.36v6.26h-6.36zM601.75 93.65h6.36v6.26h-6.36zM525.46 99.91h6.36v6.26h-6.36zM601.75 99.91h6.36v6.26h-6.36zM525.46 106.17h6.36v6.26h-6.36zM601.75 106.17h6.36v6.26h-6.36zM525.46 112.43h6.36v6.26h-6.36zM601.75 112.43h6.36v6.26h-6.36zM525.46 118.68h6.36v6.26h-6.36zM601.75 118.68h6.36v6.26h-6.36zM525.46 124.94h12.72v6.26h-12.72zM601.75 124.94h6.36v6.26h-6.36zM519.10 131.20h6.36v6.26h-6.36zM601.75 131.20h6.36v6.26h-6.36zM512.74 137.46h12.72v6.26h-12.72zM601.75 137.46h6.36v6.26h-6.36zM506.38 143.72h12.72v6.26h-12.72zM589.04 143.72h6.36v6.26h-6.36zM601.75 143.72h25.43v6.26h-25.43zM506.38 149.97h6.36v6.26h-6.36zM519.10 149.97h6.36v6.26h-6.36zM595.40 149.97h12.72v6.26h-12.72zM614.47 149.97h19.07v6.26h-19.07zM639.90 149.97h6.36v6.26h-6.36zM500.03 156.23h6.36v6.26h-6.36zM512.74 156.23h12.72v6.26h-12.72zM589.04 156.23h12.72v6.26h-12.72zM608.11 156.23h12.72v6.26h-12.72zM627.19 156.23h12.72v6.26h-12.72zM493.67 162.49h12.72v6.26h-12.72zM512.74 162.49h12.72v6.26h-12.72zM589.04 162.49h25.43v6.26h-25.43zM620.83 162.49h12.72v6.26h-12.72zM639.90 162.49h6.36v6.26h-6.36zM493.67 168.75h31.79v6.26h-31.79zM595.40 168.75h12.72v6.26h-12.72zM614.47 168.75h12.72v6.26h-12.72zM633.54 168.75h12.72v6.26h-12.72zM487.31 175.01h12.72v6.26h-12.72zM506.38 175.01h19.07v6.26h-19.07zM595.40 175.01h25.43v6.26h-25.43zM627.19 175.01h12.72v6.26h-12.72zM487.31 181.26h12.72v6.26h-12.72zM506.38 181.26h19.07v6.26h-19.07zM601.75 181.26h12.72v6.26h-12.72zM620.83 181.26h12.72v6.26h-12.72zM639.90 181.26h6.36v6.26h-6.36zM487.31 187.52h19.07v6.26h-19.07zM519.10 187.52h6.36v6.26h-6.36zM601.75 187.52h25.43v6.26h-25.43zM633.54 187.52h12.72v6.26h-12.72zM487.31 193.78h6.36v6.26h-6.36zM512.74 193.78h12.72v6.26h-12.72zM589.04 193.78h19.07v6.26h-19.07zM614.47 193.78h25.43v6.26h-25.43zM487.31 200.04h6.36v6.26h-6.36zM512.74 200.04h12.72v6.26h-12.72zM589.04 200.04h6.36v6.26h-6.36zM601.75 200.04h6.36v6.26h-6.36zM614.47 200.04h19.07v6.26h-19.07zM639.90 200.04h6.36v6.26h-6.36zM487.31 206.30h6.36v6.26h-6.36zM506.38 206.30h19.07v6.26h-19.07zM608.11 206.30h38.15v6.26h-38.15zM506.38 212.55h6.36v6.26h-6.36zM519.10 212.55h6.36v6.26h-6.36zM608.11 212.55h31.79v6.26h-31.79zM506.38 218.81h6.36v6.26h-6.36zM525.46 218.81h6.36v6.26h-6.36zM576.32 218.81h6.36v6.26h-6.36zM601.75 218.81h12.72v6.26h-12.72zM620.83 218.81h25.43v6.26h-25.43zM480.95 225.07h12.72v6.26h-12.72zM512.74 225.07h6.36v6.26h-6.36zM582.68 225.07h63.58v6.26h-63.58zM480.95 231.33h12.72v6.26h-12.72zM589.04 231.33h50.86v6.26h-50.86zM480.95 237.59h6.36v6.26h-6.36zM589.04 237.59h38.15v6.26h-38.15zM633.54 237.59h12.72v6.26h-12.72zM595.40 243.84h31.79v6.26h-31.79zM639.90 243.84h6.36v6.26h-6.36zM589.04 250.10h44.51v6.26h-44.51zM639.90 250.10h6.36v6.26h-6.36z"/><path fill="#ff3300" d="M595.40 0.80h12.72v11.50h-12.72zM620.83 0.80h6.36v11.50h-6.36zM614.47 12.30h6.36v6.26h-6.36zM639.90 12.30h6.36v6.26h-6.36zM601.75 18.56h12.72v6.26h-12.72zM601.75 24.81h6.36v6.26h-6.36zM627.19 24.81h6.36v6.26h-6.36zM595.40 31.07h6.36v6.26h-6.36zM620.83 31.07h6.36v6.26h-6.36zM614.47 37.33h6.36v6.26h-6.36zM639.90 37.33h6.36v6.26h-6.36zM608.11 43.59h6.36v6.26h-6.36zM633.54 43.59h6.36v6.26h-6.36zM601.75 49.85h6.36v6.26h-6.36zM627.19 49.85h6.36v6.26h-6.36zM620.83 56.10h12.72v6.26h-12.72zM620.83 62.36h12.72v6.26h-12.72zM614.47 68.62h25.43v6.26h-25.43zM614.47 74.88h12.72v6.26h-12.72zM633.54 74.88h12.72v6.26h-12.72zM614.47 81.14h6.36v6.26h-6.36zM633.54 81.14h12.72v6.26h-12.72zM639.90 87.39h6.36v6.26h-6.36zM614.47 118.68h6.36v6.26h-6.36zM614.47 124.94h6.36v6.26h-6.36zM633.54 124.94h12.72v6.26h-12.72zM614.47 131.20h31.79v6.26h-31.79zM620.83 137.46h12.72v6.26h-12.72zM633.54 143.72h6.36v6.26h-6.36zM550.89 156.23h6.36v6.26h-6.36zM563.61 162.49h6.36v6.26h-6.36zM557.25 168.75h12.72v6.26h-12.72zM557.25 175.01h19.07v6.26h-19.07zM557.25 181.26h6.36v6.26h-6.36zM576.32 181.26h6.36v6.26h-6.36zM563.61 187.52h12.72v6.26h-12.72zM563.61 193.78h6.36v6.26h-6.36zM595.40 206.30h6.36v6.26h-6.36zM589.04 212.55h12.72v6.26h-12.72z"/><path fill="#0088ff" d="M391.94 24.81h6.36v6.26h-6.36zM391.94 31.07h6.36v6.26h-6.36z"/><path fill="#ccff33" d="M436.45 24.81h6.36v6.26h-6.36zM417.37 37.33h6.36v6.26h-6.36zM569.96 37.33h6.36v6.26h-6.36zM430.09 43.59h6.36v6.26h-6.36zM569.96 43.59h12.72v6.26h-12.72zM430.09 49.85h6.36v6.26h-6.36zM582.68 56.10h6.36v6.26h-6.36zM500.03 62.36h6.36v6.26h-6.36zM430.09 68.62h6.36v6.26h-6.36zM493.67 68.62h12.72v6.26h-12.72zM430.09 74.88h6.36v6.26h-6.36zM480.95 74.88h6.36v6.26h-6.36zM500.03 74.88h6.36v6.26h-6.36zM430.09 81.14h12.72v6.26h-12.72zM480.95 81.14h6.36v6.26h-6.36zM493.67 81.14h6.36v6.26h-6.36zM506.38 81.14h6.36v6.26h-6.36zM563.61 81.14h6.36v6.26h-6.36zM436.45 87.39h6.36v6.26h-6.36zM480.95 87.39h19.07v6.26h-19.07zM563.61 87.39h6.36v6.26h-6.36zM430.09 93.65h6.36v6.26h-6.36zM487.31 93.65h12.72v6.26h-12.72zM563.61 93.65h6.36v6.26h-6.36zM423.73 99.91h6.36v6.26h-6.36zM480.95 99.91h25.43v6.26h-25.43zM569.96 99.91h12.72v6.26h-12.72zM423.73 106.17h6.36v6.26h-6.36zM480.95 106.17h12.72v6.26h-12.72zM500.03 106.17h6.36v6.26h-6.36zM576.32 106.17h12.72v6.26h-12.72zM423.73 112.43h6.36v6.26h-6.36zM487.31 112.43h6.36v6.26h-6.36zM582.68 112.43h6.36v6.26h-6.36zM423.73 118.68h6.36v6.26h-6.36zM423.73 124.94h6.36v6.26h-6.36zM423.73 131.20h6.36v6.26h-6.36zM487.31 131.20h6.36v6.26h-6.36zM423.73 137.46h6.36v6.26h-6.36zM474.59 137.46h25.43v6.26h-25.43zM423.73 143.72h6.36v6.26h-6.36zM455.52 143.72h25.43v6.26h-25.43zM487.31 143.72h6.36v6.26h-6.36zM455.52 149.97h19.07v6.26h-19.07zM487.31 149.97h6.36v6.26h-6.36zM442.80 156.23h12.72v6.26h-12.72zM461.88 156.23h6.36v6.26h-6.36zM480.95 156.23h6.36v6.26h-6.36zM436.45 162.49h6.36v6.26h-6.36zM468.24 162.49h6.36v6.26h-6.36zM480.95 162.49h6.36v6.26h-6.36zM423.73 168.75h12.72v6.26h-12.72zM468.24 168.75h6.36v6.26h-6.36zM480.95 168.75h6.36v6.26h-6.36zM468.24 175.01h12.72v6.26h-12.72zM468.24 181.26h12.72v6.26h-12.72zM461.88 193.78h6.36v6.26h-6.36zM461.88 200.04h6.36v6.26h-6.36zM461.88 206.30h6.36v6.26h-6.36zM449.16 212.55h12.72v6.26h-12.72zM442.80 218.81h6.36v6.26h-6.36zM455.52 218.81h6.36v6.26h-6.36zM436.45 225.07h6.36v6.26h-6.36zM449.16 225.07h6.36v6.26h-6.36zM538.17 225.07h6.36v6.26h-6.36zM430.09 231.33h6.36v6.26h-6.36zM449.16 231.33h6.36v6.26h-6.36zM417.37 237.59h6.36v6.26h-6.36zM430.09 237.59h6.36v6.26h-6.36zM417.37 243.84h6.36v6.26h-6.36zM430.09 243.84h12.72v6.26h-12.72zM417.37 250.10h6.36v6.26h-6.36zM455.52 250.10h6.36v6.26h-6.36z"/><path fill="#66ff99" d="M430.09 37.33h6.36v6.26h-6.36zM423.73 43.59h6.36v6.26h-6.36zM404.66 49.85h6.36v6.26h-6.36zM404.66 56.10h6.36v6.26h-6.36zM411.01 74.88h6.36v6.26h-6.36zM411.01 81.14h6.36v6.26h-6.36zM411.01 87.39h6.36v6.26h-6.36zM411.01 93.65h6.36v6.26h-6.36zM417.37 99.91h6.36v6.26h-6.36zM411.01 112.43h6.36v6.26h-6.36zM411.01 118.68h6.36v6.26h-6.36zM411.01 131.20h6.36v6.26h-6.36zM411.01 137.46h6.36v6.26h-6.36zM404.66 143.72h6.36v6.26h-6.36zM404.66 149.97h6.36v6.26h-6.36zM404.66 156.23h6.36v6.26h-6.36zM455.52 175.01h6.36v6.26h-6.36zM455.52 181.26h6.36v6.26h-6.36zM404.66 187.52h6.36v6.26h-6.36zM455.52 187.52h6.36v6.26h-6.36zM411.01 193.78h6.36v6.26h-6.36zM423.73 193.78h6.36v6.26h-6.36zM455.52 193.78h6.36v6.26h-6.36zM430.09 200.04h6.36v6.26h-6.36zM455.52 200.04h6.36v6.26h-6.36zM398.30 206.30h6.36v6.26h-6.36zM411.01 206.30h12.72v6.26h-12.72zM411.01 212.55h6.36v6.26h-6.36zM423.73 212.55h6.36v6.26h-6.36zM398.30 218.81h6.36v6.26h-6.36zM423.73 225.07h6.36v6.26h-6.36zM417.37 231.33h6.36v6.26h-6.36zM398.30 237.59h6.36v6.26h-6.36zM398.30 243.84h6.36v6.26h-6.36z"/><path fill="#00ffff" d="M398.30 56.10h6.36v6.26h-6.36zM391.94 156.23h6.36v6.26h-6.36zM398.30 175.01h6.36v6.26h-6.36zM398.30 187.52h6.36v6.26h-6.36zM417.37 218.81h6.36v6.26h-6.36z"/><path fill="#ff0000" d="M627.19 74.88h6.36v6.26h-6.36zM620.83 81.14h12.72v6.26h-12.72zM614.47 87.39h6.36v6.26h-6.36zM633.54 87.39h6.36v6.26h-6.36zM614.47 93.65h6.36v6.26h-6.36zM633.54 93.65h12.72v6.26h-12.72zM614.47 99.91h6.36v6.26h-6.36zM633.54 99.91h12.72v6.26h-12.72zM614.47 106.17h6.36v6.26h-6.36zM633.54 106.17h12.72v6.26h-12.72zM614.47 112.43h6.36v6.26h-6.36zM627.19 112.43h19.07v6.26h-19.07zM620.83 118.68h25.43v6.26h-25.43zM620.83 124.94h12.72v6.26h-12.72zM563.61 181.26h12.72v6.26h-12.72z"/><path fill="#cc0000" d="M620.83 87.39h12.72v6.26h-12.72zM620.83 93.65h12.72v6.26h-12.72zM620.83 99.91h12.72v6.26h-12.72zM620.83 106.17h12.72v6.26h-12.72zM620.83 112.43h6.36v6.26h-6.36z"/><path fill="#000099" d="M391.94 231.33h6.36v6.26h-6.36zM391.94 237.59h6.36v6.26h-6.36zM391.94 243.84h6.36v6.26h-6.36zM391.94 250.10h6.36v6.26h-6.36z"/></g></g><g clip-path="url(#clipb)" fill="none" stroke="#000"><circle cx="521.9" cy="128.7" r="36" stroke-width="1.4"/><circle cx="521.9" cy="128.7" r="71.5" stroke-width="1.4"/><circle cx="521.9" cy="128.7" r="107.3" stroke-width="1.3" stroke-dasharray="1.2 1.1"/><circle cx="521.9" cy="128.7" r="144" stroke-width="1.3" stroke-dasharray="1.2 1.1"/><line x1="522.6" y1="128.7" x2="548.2" y2="253" stroke-width="1.5"/><rect x="528.1" y="169" width="8" height="6.4" stroke-width="1.6"/><line x1="504.3" y1="207.9" x2="521.5" y2="185.2" stroke-width="1.9"/></g><path d="M526.4 178.6 L517.1 184.4 L523.5 189.3 Z" fill="#000"/><rect x="395.6" y="3.8" width="248.69999999999993" height="249.1" fill="none" stroke="#000" stroke-width="1.2"/><path d="M401.7 3.8v2.4M401.7 252.9v-2.4M408.8 3.8v2.4M408.8 252.9v-2.4M415.9 3.8v2.4M415.9 252.9v-2.4M423.0 3.8v2.4M423.0 252.9v-2.4M430.1 3.8v2.4M430.1 252.9v-2.4M437.2 3.8v2.4M437.2 252.9v-2.4M444.3 3.8v2.4M444.3 252.9v-2.4M451.4 3.8v2.4M451.4 252.9v-2.4M458.5 3.8v2.4M458.5 252.9v-2.4M465.6 3.8v2.4M465.6 252.9v-2.4M472.7 3.8v2.4M472.7 252.9v-2.4M479.8 3.8v2.4M479.8 252.9v-2.4M486.9 3.8v2.4M486.9 252.9v-2.4M494.0 3.8v2.4M494.0 252.9v-2.4M501.1 3.8v2.4M501.1 252.9v-2.4M508.2 3.8v2.4M508.2 252.9v-2.4M515.3 3.8v2.4M515.3 252.9v-2.4M522.4 3.8v2.4M522.4 252.9v-2.4M529.5 3.8v2.4M529.5 252.9v-2.4M536.6 3.8v2.4M536.6 252.9v-2.4M543.7 3.8v2.4M543.7 252.9v-2.4M550.8 3.8v2.4M550.8 252.9v-2.4M557.9 3.8v2.4M557.9 252.9v-2.4M565.0 3.8v2.4M565.0 252.9v-2.4M572.1 3.8v2.4M572.1 252.9v-2.4M579.2 3.8v2.4M579.2 252.9v-2.4M586.3 3.8v2.4M586.3 252.9v-2.4M593.4 3.8v2.4M593.4 252.9v-2.4M600.5 3.8v2.4M600.5 252.9v-2.4M607.6 3.8v2.4M607.6 252.9v-2.4M614.7 3.8v2.4M614.7 252.9v-2.4M621.8 3.8v2.4M621.8 252.9v-2.4M628.9 3.8v2.4M628.9 252.9v-2.4M636.0 3.8v2.4M636.0 252.9v-2.4M643.1 3.8v2.4M643.1 252.9v-2.4M395.6 8.0h2.4M395.6 15.1h2.4M395.6 22.2h2.4M395.6 29.3h2.4M395.6 36.4h2.4M395.6 43.5h2.4M395.6 50.6h2.4M395.6 57.7h2.4M395.6 64.8h2.4M395.6 71.9h2.4M395.6 79.0h2.4M395.6 86.1h2.4M395.6 93.2h2.4M395.6 100.3h2.4M395.6 107.4h2.4M395.6 114.5h2.4M395.6 121.6h2.4M395.6 128.7h2.4M395.6 135.8h2.4M395.6 142.9h2.4M395.6 150.0h2.4M395.6 157.1h2.4M395.6 164.2h2.4M395.6 171.3h2.4M395.6 178.4h2.4M395.6 185.5h2.4M395.6 192.6h2.4M395.6 199.7h2.4M395.6 206.8h2.4M395.6 213.9h2.4M395.6 221.0h2.4M395.6 228.1h2.4M395.6 235.2h2.4M395.6 242.3h2.4M395.6 249.4h2.4" stroke="#000" stroke-width="0.9" fill="none"/><text x="527" y="18.6" font-size="15.5" text-anchor="middle" fill="#000" stroke="#000" stroke-width="0.12">N</text><text x="523.8" y="250.5" font-size="15.5" text-anchor="middle" fill="#000" stroke="#000" stroke-width="0.12">S</text><text x="397.3" y="134.6" font-size="15.5" text-anchor="start" fill="#000" stroke="#000" stroke-width="0.12">E</text><text x="631.0" y="134.1" font-size="15.5" text-anchor="start" fill="#000" stroke="#000" stroke-width="0.12" textLength="12.4" lengthAdjust="spacingAndGlyphs">W</text><text x="523.2" y="123.9" font-size="15.5" text-anchor="start" fill="#000" stroke="#000" stroke-width="0.12">90</text><text x="543.3" y="97.3" font-size="15.5" text-anchor="start" fill="#000" stroke="#000" stroke-width="0.12">80</text><text x="568" y="68.9" font-size="15.5" text-anchor="start" fill="#000" stroke="#000" stroke-width="0.12">70</text><text x="594.5" y="40.5" font-size="15.5" text-anchor="start" fill="#000" stroke="#000" stroke-width="0.12">60</text><text x="619.7" y="21.9" font-size="15.5" text-anchor="start" fill="#000" stroke="#000" stroke-width="0.12">50</text><text x="454.0" y="215.8" font-size="15.2" text-anchor="start" fill="#000" stroke="#000" stroke-width="0.12" textLength="118.3" lengthAdjust="spacingAndGlyphs">geomagnetic zenith</text><text x="454.0" y="232.0" font-size="15.2" text-anchor="start" fill="#000" stroke="#000" stroke-width="0.12" textLength="86.7" lengthAdjust="spacingAndGlyphs">(77.6° 190.9°)</text><text x="362.2" y="20.6" font-size="17.8" text-anchor="start" fill="#13306e" stroke="#13306e" stroke-width="0.12">(b)</text><rect x="644.3" y="240.44" width="4.0" height="12.76" fill="#000099"/><rect x="644.3" y="227.99" width="4.0" height="12.76" fill="#0000cc"/><rect x="644.3" y="215.53" width="4.0" height="12.76" fill="#0000ff"/><rect x="644.3" y="203.08" width="4.0" height="12.76" fill="#0033ff"/><rect x="644.3" y="190.62" width="4.0" height="12.76" fill="#0066ff"/><rect x="644.3" y="178.17" width="4.0" height="12.76" fill="#0099ff"/><rect x="644.3" y="165.72" width="4.0" height="12.76" fill="#00ccff"/><rect x="644.3" y="153.26" width="4.0" height="12.76" fill="#00ffff"/><rect x="644.3" y="140.81" width="4.0" height="12.76" fill="#33ffcc"/><rect x="644.3" y="128.35" width="4.0" height="12.76" fill="#66ff99"/><rect x="644.3" y="115.90" width="4.0" height="12.76" fill="#99ff66"/><rect x="644.3" y="103.44" width="4.0" height="12.76" fill="#ccff33"/><rect x="644.3" y="90.99" width="4.0" height="12.76" fill="#ffff00"/><rect x="644.3" y="78.53" width="4.0" height="12.76" fill="#ffcc00"/><rect x="644.3" y="66.08" width="4.0" height="12.76" fill="#ff9900"/><rect x="644.3" y="53.62" width="4.0" height="12.76" fill="#ff6600"/><rect x="644.3" y="41.16" width="4.0" height="12.76" fill="#ff3300"/><rect x="644.3" y="28.71" width="4.0" height="12.76" fill="#ff0000"/><rect x="644.3" y="16.25" width="4.0" height="12.76" fill="#cc0000"/><rect x="644.3" y="3.80" width="4.0" height="12.76" fill="#990000"/><rect x="644.3" y="3.8" width="4.0" height="249.1" fill="none" stroke="#000" stroke-width="1"/><path d="M648.3 10.03h-1.6M648.3 16.25h-1.6M648.3 22.48h-1.6M648.3 28.71h-1.6M648.3 34.94h-1.6M648.3 41.16h-1.6M648.3 47.39h-1.6M648.3 53.62h-1.6M648.3 59.85h-1.6M648.3 66.08h-1.6M648.3 72.30h-1.6M648.3 78.53h-1.6M648.3 84.76h-1.6M648.3 90.98h-1.6M648.3 97.21h-1.6M648.3 103.44h-1.6M648.3 109.67h-1.6M648.3 115.89h-1.6M648.3 122.12h-1.6M648.3 128.35h-1.6M648.3 134.58h-1.6M648.3 140.81h-1.6M648.3 147.03h-1.6M648.3 153.26h-1.6M648.3 159.49h-1.6M648.3 165.72h-1.6M648.3 171.94h-1.6M648.3 178.17h-1.6M648.3 184.40h-1.6M648.3 190.62h-1.6M648.3 196.85h-1.6M648.3 203.08h-1.6M648.3 209.31h-1.6M648.3 215.54h-1.6M648.3 221.76h-1.6M648.3 227.99h-1.6M648.3 234.22h-1.6M648.3 240.45h-1.6M648.3 246.67h-1.6" stroke="#000" stroke-width="0.9"/><text x="651.0999999999999" y="10.8" font-size="15.5" text-anchor="start" fill="#000" stroke="#000" stroke-width="0.12">2.0</text><path d="M648.3 5.6h-2.5" stroke="#000" stroke-width="1"/><text x="651.0999999999999" y="75.2" font-size="15.5" text-anchor="start" fill="#000" stroke="#000" stroke-width="0.12">1.5</text><path d="M648.3 70h-2.5" stroke="#000" stroke-width="1"/><text x="651.0999999999999" y="138.5" font-size="15.5" text-anchor="start" fill="#000" stroke="#000" stroke-width="0.12">1.0</text><path d="M648.3 133.3h-2.5" stroke="#000" stroke-width="1"/><text x="651.0999999999999" y="198.2" font-size="15.5" text-anchor="start" fill="#000" stroke="#000" stroke-width="0.12">0.5</text><path d="M648.3 193h-2.5" stroke="#000" stroke-width="1"/><text x="651.0999999999999" y="255.5" font-size="15.5" text-anchor="start" fill="#000" stroke="#000" stroke-width="0.12">0</text><path d="M648.3 250.3h-2.5" stroke="#000" stroke-width="1"/><text transform="translate(680.5,130.4) rotate(-90)" font-size="15.5" text-anchor="middle" stroke="#000" stroke-width="0.12" textLength="213" lengthAdjust="spacingAndGlyphs">precipitating electron energy (keV)</text><path d="M57.00 427.4v-3M57.00 268.6v3M63.20 427.4v-3M63.20 268.6v3M69.41 427.4v-3M69.41 268.6v3M75.61 427.4v-3M75.61 268.6v3M81.81 427.4v-5M81.81 268.6v5M88.01 427.4v-3M88.01 268.6v3M94.22 427.4v-3M94.22 268.6v3M100.42 427.4v-3M100.42 268.6v3M106.62 427.4v-3M106.62 268.6v3M112.82 427.4v-5M112.82 268.6v5M119.03 427.4v-3M119.03 268.6v3M125.23 427.4v-3M125.23 268.6v3M131.43 427.4v-3M131.43 268.6v3M137.63 427.4v-3M137.63 268.6v3M143.84 427.4v-5M143.84 268.6v5M150.04 427.4v-3M150.04 268.6v3M156.24 427.4v-3M156.24 268.6v3M162.44 427.4v-3M162.44 268.6v3M168.65 427.4v-3M168.65 268.6v3M174.85 427.4v-5M174.85 268.6v5M181.05 427.4v-3M181.05 268.6v3M187.25 427.4v-3M187.25 268.6v3M193.46 427.4v-3M193.46 268.6v3M199.66 427.4v-3M199.66 268.6v3M205.86 427.4v-5M205.86 268.6v5M212.06 427.4v-3M212.06 268.6v3M218.27 427.4v-3M218.27 268.6v3M224.47 427.4v-3M224.47 268.6v3M230.67 427.4v-3M230.67 268.6v3M236.88 427.4v-5M236.88 268.6v5M243.08 427.4v-3M243.08 268.6v3M249.28 427.4v-3M249.28 268.6v3M255.48 427.4v-3M255.48 268.6v3M261.69 427.4v-3M261.69 268.6v3M267.89 427.4v-5M267.89 268.6v5M274.09 427.4v-3M274.09 268.6v3M280.29 427.4v-3M280.29 268.6v3M286.50 427.4v-3M286.50 268.6v3M292.70 427.4v-3M292.70 268.6v3M50.8 416.81h3.2M298.9 416.81h-3.2M50.8 406.23h3.2M298.9 406.23h-3.2M50.8 395.64h3.2M298.9 395.64h-3.2M50.8 385.05h3.2M298.9 385.05h-3.2M50.8 374.47h5.5M298.9 374.47h-5.5M50.8 363.88h3.2M298.9 363.88h-3.2M50.8 353.29h3.2M298.9 353.29h-3.2M50.8 342.71h3.2M298.9 342.71h-3.2M50.8 332.12h3.2M298.9 332.12h-3.2M50.8 321.53h5.5M298.9 321.53h-5.5M50.8 310.95h3.2M298.9 310.95h-3.2M50.8 300.36h3.2M298.9 300.36h-3.2M50.8 289.77h3.2M298.9 289.77h-3.2M50.8 279.19h3.2M298.9 279.19h-3.2" stroke="#000" stroke-width="1.2" fill="none"/><rect x="50.8" y="268.6" width="248.09999999999997" height="158.79999999999995" fill="none" stroke="#000" stroke-width="1.7"/><line x1="52.3" y1="364.1" x2="298.9" y2="364.1" stroke="#000" stroke-width="2" stroke-dasharray="8.2 5.9"/><line x1="223.4" y1="319.7" x2="223.4" y2="427.4" stroke="#000" stroke-width="1.7" stroke-dasharray="3.2 3.8"/><circle cx="55.0" cy="333.4" r="2.75" fill="#1f6ffc"/><circle cx="64.4" cy="337.3" r="2.75" fill="#1f6ffc"/><circle cx="73.5" cy="345.4" r="2.75" fill="#1f6ffc"/><circle cx="57.0" cy="351.6" r="2.75" fill="#1f6ffc"/><circle cx="82.7" cy="351.9" r="2.75" fill="#1f6ffc"/><circle cx="59.5" cy="362.3" r="2.75" fill="#1f6ffc"/><circle cx="53.6" cy="367.2" r="2.75" fill="#1f6ffc"/><circle cx="61.6" cy="372.3" r="2.75" fill="#1f6ffc"/><circle cx="62.8" cy="377.2" r="2.75" fill="#1f6ffc"/><circle cx="70.4" cy="374.2" r="2.75" fill="#1f6ffc"/><circle cx="52.2" cy="381.8" r="2.75" fill="#1f6ffc"/><circle cx="68.3" cy="366" r="2.75" fill="#1f6ffc"/><circle cx="72.1" cy="365.7" r="2.75" fill="#1f6ffc"/><circle cx="77.4" cy="363" r="2.75" fill="#1f6ffc"/><circle cx="79.7" cy="369.2" r="2.75" fill="#1f6ffc"/><circle cx="81.3" cy="366.7" r="2.75" fill="#1f6ffc"/><circle cx="86.5" cy="360.7" r="2.75" fill="#1f6ffc"/><circle cx="89" cy="364.4" r="2.75" fill="#1f6ffc"/><circle cx="90" cy="358.6" r="2.75" fill="#1f6ffc"/><circle cx="92.1" cy="354.7" r="2.75" fill="#1f6ffc"/><circle cx="95.6" cy="356" r="2.75" fill="#1f6ffc"/><circle cx="97.9" cy="355.5" r="2.75" fill="#1f6ffc"/><circle cx="99.7" cy="349.2" r="2.75" fill="#1f6ffc"/><circle cx="101.6" cy="348.8" r="2.75" fill="#1f6ffc"/><circle cx="106.5" cy="352.6" r="2.75" fill="#1f6ffc"/><circle cx="108.7" cy="345.6" r="2.75" fill="#1f6ffc"/><circle cx="110.9" cy="346.7" r="2.75" fill="#1f6ffc"/><circle cx="115.7" cy="349.5" r="2.75" fill="#1f6ffc"/><circle cx="117.9" cy="343.9" r="2.75" fill="#1f6ffc"/><circle cx="119.6" cy="345.3" r="2.75" fill="#1f6ffc"/><circle cx="120.7" cy="338.6" r="2.75" fill="#1f6ffc"/><circle cx="124.5" cy="348.8" r="2.75" fill="#1f6ffc"/><circle cx="127.3" cy="349.5" r="2.75" fill="#1f6ffc"/><circle cx="129.4" cy="348.4" r="2.75" fill="#1f6ffc"/><circle cx="130.3" cy="339.7" r="2.75" fill="#1f6ffc"/><circle cx="136.1" cy="344.3" r="2.75" fill="#1f6ffc"/><circle cx="138" cy="349.1" r="2.75" fill="#1f6ffc"/><circle cx="139.4" cy="345.7" r="2.75" fill="#1f6ffc"/><circle cx="145.2" cy="336.2" r="2.75" fill="#1f6ffc"/><circle cx="147.3" cy="348.1" r="2.75" fill="#1f6ffc"/><circle cx="148.5" cy="357.4" r="2.75" fill="#1f6ffc"/><circle cx="154.3" cy="347.4" r="2.75" fill="#1f6ffc"/><circle cx="156.2" cy="358.3" r="2.75" fill="#1f6ffc"/><circle cx="158" cy="360.7" r="2.75" fill="#1f6ffc"/><circle cx="163.3" cy="361" r="2.75" fill="#1f6ffc"/><circle cx="165.5" cy="365.8" r="2.75" fill="#1f6ffc"/><circle cx="167.3" cy="361.5" r="2.75" fill="#1f6ffc"/><circle cx="174.7" cy="366.7" r="2.75" fill="#1f6ffc"/><circle cx="176.5" cy="363.2" r="2.75" fill="#1f6ffc"/><circle cx="183.5" cy="366.7" r="2.75" fill="#1f6ffc"/><circle cx="185.6" cy="363.2" r="2.75" fill="#1f6ffc"/><circle cx="192.7" cy="367.6" r="2.75" fill="#1f6ffc"/><circle cx="194.8" cy="361.9" r="2.75" fill="#1f6ffc"/><circle cx="204" cy="360.3" r="2.75" fill="#1f6ffc"/><circle cx="212.8" cy="361" r="2.75" fill="#1f6ffc"/><circle cx="214.6" cy="365" r="2.75" fill="#1f6ffc"/><circle cx="222" cy="365.8" r="2.75" fill="#1f6ffc"/><circle cx="224.2" cy="365.8" r="2.75" fill="#1f6ffc"/><circle cx="231.2" cy="368" r="2.75" fill="#1f6ffc"/><circle cx="233" cy="364.5" r="2.75" fill="#1f6ffc"/><circle cx="242.2" cy="361.9" r="2.75" fill="#1f6ffc"/><circle cx="251.3" cy="361" r="2.75" fill="#1f6ffc"/><circle cx="260.5" cy="357.5" r="2.75" fill="#1f6ffc"/><text x="44.0" y="429.7" font-size="17" text-anchor="end" fill="#000" stroke="#000" stroke-width="0.12">0.0</text><text x="44.0" y="376.76666666666665" font-size="17" text-anchor="end" fill="#000" stroke="#000" stroke-width="0.12">0.5</text><text x="44.0" y="323.83333333333337" font-size="17" text-anchor="end" fill="#000" stroke="#000" stroke-width="0.12">1.0</text><text x="44.0" y="270.90000000000003" font-size="17" text-anchor="end" fill="#000" stroke="#000" stroke-width="0.12">1.5</text><text x="50.8" y="444.5" font-size="17" text-anchor="middle" fill="#000" stroke="#000" stroke-width="0.12">50</text><text x="81.8125" y="444.5" font-size="17" text-anchor="middle" fill="#000" stroke="#000" stroke-width="0.12">55</text><text x="112.82499999999999" y="444.5" font-size="17" text-anchor="middle" fill="#000" stroke="#000" stroke-width="0.12">60</text><text x="143.83749999999998" y="444.5" font-size="17" text-anchor="middle" fill="#000" stroke="#000" stroke-width="0.12">65</text><text x="174.84999999999997" y="444.5" font-size="17" text-anchor="middle" fill="#000" stroke="#000" stroke-width="0.12">70</text><text x="205.86249999999995" y="444.5" font-size="17" text-anchor="middle" fill="#000" stroke="#000" stroke-width="0.12">75</text><text x="236.875" y="444.5" font-size="17" text-anchor="middle" fill="#000" stroke="#000" stroke-width="0.12">80</text><text x="267.88749999999993" y="444.5" font-size="17" text-anchor="middle" fill="#000" stroke="#000" stroke-width="0.12">85</text><text x="298.9" y="444.5" font-size="17" text-anchor="middle" fill="#000" stroke="#000" stroke-width="0.12">90</text><text x="182" y="458.7" font-size="16.4" text-anchor="middle" fill="#000" stroke="#000" stroke-width="0.12" textLength="147.5" lengthAdjust="spacingAndGlyphs">elevation angle (deg)</text><text transform="translate(11.2,347.5) rotate(-90)" font-size="16" text-anchor="middle" stroke="#000" stroke-width="0.12" textLength="164.2" lengthAdjust="spacingAndGlyphs">I(630.0nm)/I(427.8nm)</text><text x="56.6" y="287.8" font-size="17" text-anchor="start" fill="#000" stroke="#000" stroke-width="0.12">(c)</text><text x="228.5" y="289.4" font-size="18" text-anchor="middle" fill="#7626dc" stroke="#7626dc" stroke-width="0.12" textLength="89" lengthAdjust="spacingAndGlyphs">geomagnetic</text><text x="230.7" y="308.5" font-size="18" text-anchor="middle" fill="#7626dc" stroke="#7626dc" stroke-width="0.12" textLength="42.5" lengthAdjust="spacingAndGlyphs">zenith</text><path d="M401.40 427.4v-3M401.40 265.7v3M407.60 427.4v-3M407.60 265.7v3M413.81 427.4v-3M413.81 265.7v3M420.01 427.4v-3M420.01 265.7v3M426.21 427.4v-5M426.21 265.7v5M432.41 427.4v-3M432.41 265.7v3M438.62 427.4v-3M438.62 265.7v3M444.82 427.4v-3M444.82 265.7v3M451.02 427.4v-3M451.02 265.7v3M457.22 427.4v-5M457.22 265.7v5M463.43 427.4v-3M463.43 265.7v3M469.63 427.4v-3M469.63 265.7v3M475.83 427.4v-3M475.83 265.7v3M482.03 427.4v-3M482.03 265.7v3M488.24 427.4v-5M488.24 265.7v5M494.44 427.4v-3M494.44 265.7v3M500.64 427.4v-3M500.64 265.7v3M506.84 427.4v-3M506.84 265.7v3M513.05 427.4v-3M513.05 265.7v3M519.25 427.4v-5M519.25 265.7v5M525.45 427.4v-3M525.45 265.7v3M531.65 427.4v-3M531.65 265.7v3M537.86 427.4v-3M537.86 265.7v3M544.06 427.4v-3M544.06 265.7v3M550.26 427.4v-5M550.26 265.7v5M556.46 427.4v-3M556.46 265.7v3M562.67 427.4v-3M562.67 265.7v3M568.87 427.4v-3M568.87 265.7v3M575.07 427.4v-3M575.07 265.7v3M581.27 427.4v-5M581.27 265.7v5M587.48 427.4v-3M587.48 265.7v3M593.68 427.4v-3M593.68 265.7v3M599.88 427.4v-3M599.88 265.7v3M606.09 427.4v-3M606.09 265.7v3M612.29 427.4v-5M612.29 265.7v5M618.49 427.4v-3M618.49 265.7v3M624.69 427.4v-3M624.69 265.7v3M630.89 427.4v-3M630.89 265.7v3M637.10 427.4v-3M637.10 265.7v3M395.2 422.01h3.2M643.3 422.01h-3.2M395.2 416.62h3.2M643.3 416.62h-3.2M395.2 411.23h3.2M643.3 411.23h-3.2M395.2 405.84h3.2M643.3 405.84h-3.2M395.2 400.45h5.5M643.3 400.45h-5.5M395.2 395.06h3.2M643.3 395.06h-3.2M395.2 389.67h3.2M643.3 389.67h-3.2M395.2 384.28h3.2M643.3 384.28h-3.2M395.2 378.89h3.2M643.3 378.89h-3.2M395.2 373.50h5.5M643.3 373.50h-5.5M395.2 368.11h3.2M643.3 368.11h-3.2M395.2 362.72h3.2M643.3 362.72h-3.2M395.2 357.33h3.2M643.3 357.33h-3.2M395.2 351.94h3.2M643.3 351.94h-3.2M395.2 346.55h5.5M643.3 346.55h-5.5M395.2 341.16h3.2M643.3 341.16h-3.2M395.2 335.77h3.2M643.3 335.77h-3.2M395.2 330.38h3.2M643.3 330.38h-3.2M395.2 324.99h3.2M643.3 324.99h-3.2M395.2 319.60h5.5M643.3 319.60h-5.5M395.2 314.21h3.2M643.3 314.21h-3.2M395.2 308.82h3.2M643.3 308.82h-3.2M395.2 303.43h3.2M643.3 303.43h-3.2M395.2 298.04h3.2M643.3 298.04h-3.2M395.2 292.65h5.5M643.3 292.65h-5.5M395.2 287.26h3.2M643.3 287.26h-3.2M395.2 281.87h3.2M643.3 281.87h-3.2M395.2 276.48h3.2M643.3 276.48h-3.2M395.2 271.09h3.2M643.3 271.09h-3.2" stroke="#000" stroke-width="1.2" fill="none"/><rect x="395.2" y="265.7" width="248.09999999999997" height="161.7" fill="none" stroke="#000" stroke-width="1.7"/><line x1="396.7" y1="341.1" x2="643.3" y2="341.1" stroke="#000" stroke-width="2" stroke-dasharray="8.2 5.9"/><line x1="567.9" y1="319.7" x2="567.9" y2="427.4" stroke="#000" stroke-width="1.7" stroke-dasharray="3.2 3.8"/><circle cx="396.7" cy="319.2" r="2.75" fill="#1f6ffc"/><circle cx="407.5" cy="326.5" r="2.75" fill="#1f6ffc"/><circle cx="414.9" cy="330" r="2.75" fill="#1f6ffc"/><circle cx="406.1" cy="332.8" r="2.75" fill="#1f6ffc"/><circle cx="398.1" cy="338.4" r="2.75" fill="#1f6ffc"/><circle cx="424.3" cy="336.6" r="2.75" fill="#1f6ffc"/><circle cx="404" cy="343.3" r="2.75" fill="#1f6ffc"/><circle cx="413.1" cy="340.1" r="2.75" fill="#1f6ffc"/><circle cx="416.6" cy="340.5" r="2.75" fill="#1f6ffc"/><circle cx="422.2" cy="342.9" r="2.75" fill="#1f6ffc"/><circle cx="426.6" cy="340.1" r="2.75" fill="#1f6ffc"/><circle cx="433.4" cy="341.9" r="2.75" fill="#1f6ffc"/><circle cx="431.3" cy="345" r="2.75" fill="#1f6ffc"/><circle cx="434.8" cy="347.1" r="2.75" fill="#1f6ffc"/><circle cx="436.9" cy="349.6" r="2.75" fill="#1f6ffc"/><circle cx="440.3" cy="349.6" r="2.75" fill="#1f6ffc"/><circle cx="442.4" cy="349.9" r="2.75" fill="#1f6ffc"/><circle cx="445.2" cy="354.1" r="2.75" fill="#1f6ffc"/><circle cx="449.4" cy="352" r="2.75" fill="#1f6ffc"/><circle cx="401.9" cy="352.2" r="2.75" fill="#1f6ffc"/><circle cx="427.1" cy="352" r="2.75" fill="#1f6ffc"/><circle cx="418" cy="356.4" r="2.75" fill="#1f6ffc"/><circle cx="399.5" cy="363.1" r="2.75" fill="#1f6ffc"/><circle cx="408.9" cy="361.5" r="2.75" fill="#1f6ffc"/><circle cx="443.6" cy="351" r="2.75" fill="#1f6ffc"/><circle cx="451.2" cy="351" r="2.75" fill="#1f6ffc"/><circle cx="454" cy="355.5" r="2.75" fill="#1f6ffc"/><circle cx="460.4" cy="353.5" r="2.75" fill="#1f6ffc"/><circle cx="462.5" cy="356.1" r="2.75" fill="#1f6ffc"/><circle cx="464.3" cy="357.3" r="2.75" fill="#1f6ffc"/><circle cx="465.4" cy="360.2" r="2.75" fill="#1f6ffc"/><circle cx="469.6" cy="354.3" r="2.75" fill="#1f6ffc"/><circle cx="473.1" cy="354.3" r="2.75" fill="#1f6ffc"/><circle cx="474.9" cy="360" r="2.75" fill="#1f6ffc"/><circle cx="480.2" cy="356.9" r="2.75" fill="#1f6ffc"/><circle cx="482.8" cy="353.7" r="2.75" fill="#1f6ffc"/><circle cx="484.4" cy="356.1" r="2.75" fill="#1f6ffc"/><circle cx="489.7" cy="361.4" r="2.75" fill="#1f6ffc"/><circle cx="491.9" cy="354.6" r="2.75" fill="#1f6ffc"/><circle cx="493.4" cy="347.8" r="2.75" fill="#1f6ffc"/><circle cx="498.8" cy="355.3" r="2.75" fill="#1f6ffc"/><circle cx="500.9" cy="347" r="2.75" fill="#1f6ffc"/><circle cx="502.8" cy="344.9" r="2.75" fill="#1f6ffc"/><circle cx="507.8" cy="344.6" r="2.75" fill="#1f6ffc"/><circle cx="510.4" cy="340.1" r="2.75" fill="#1f6ffc"/><circle cx="511.9" cy="344.3" r="2.75" fill="#1f6ffc"/><circle cx="519" cy="338.9" r="2.75" fill="#1f6ffc"/><circle cx="521" cy="342.5" r="2.75" fill="#1f6ffc"/><circle cx="528.5" cy="339.2" r="2.75" fill="#1f6ffc"/><circle cx="530.2" cy="342.5" r="2.75" fill="#1f6ffc"/><circle cx="537.1" cy="338.3" r="2.75" fill="#1f6ffc"/><circle cx="539.5" cy="343.7" r="2.75" fill="#1f6ffc"/><circle cx="548.4" cy="345.4" r="2.75" fill="#1f6ffc"/><circle cx="557.4" cy="344.6" r="2.75" fill="#1f6ffc"/><circle cx="559.4" cy="341.1" r="2.75" fill="#1f6ffc"/><circle cx="566.9" cy="340.1" r="2.75" fill="#1f6ffc"/><circle cx="569.3" cy="340.4" r="2.75" fill="#1f6ffc"/><circle cx="576" cy="337.8" r="2.75" fill="#1f6ffc"/><circle cx="577.9" cy="341.5" r="2.75" fill="#1f6ffc"/><circle cx="586.8" cy="344" r="2.75" fill="#1f6ffc"/><circle cx="596.2" cy="344.6" r="2.75" fill="#1f6ffc"/><circle cx="604.6" cy="347.7" r="2.75" fill="#1f6ffc"/><text x="388.4" y="429.7" font-size="17" text-anchor="end" fill="#000" stroke="#000" stroke-width="0.12">0.0</text><text x="388.4" y="402.75" font-size="17" text-anchor="end" fill="#000" stroke="#000" stroke-width="0.12">0.5</text><text x="388.4" y="375.8" font-size="17" text-anchor="end" fill="#000" stroke="#000" stroke-width="0.12">1.0</text><text x="388.4" y="348.84999999999997" font-size="17" text-anchor="end" fill="#000" stroke="#000" stroke-width="0.12">1.5</text><text x="388.4" y="321.9" font-size="17" text-anchor="end" fill="#000" stroke="#000" stroke-width="0.12">2.0</text><text x="388.4" y="294.95" font-size="17" text-anchor="end" fill="#000" stroke="#000" stroke-width="0.12">2.5</text><text x="388.4" y="268.0" font-size="17" text-anchor="end" fill="#000" stroke="#000" stroke-width="0.12">3.0</text><text x="395.2" y="444.5" font-size="17" text-anchor="middle" fill="#000" stroke="#000" stroke-width="0.12">50</text><text x="426.2125" y="444.5" font-size="17" text-anchor="middle" fill="#000" stroke="#000" stroke-width="0.12">55</text><text x="457.22499999999997" y="444.5" font-size="17" text-anchor="middle" fill="#000" stroke="#000" stroke-width="0.12">60</text><text x="488.23749999999995" y="444.5" font-size="17" text-anchor="middle" fill="#000" stroke="#000" stroke-width="0.12">65</text><text x="519.25" y="444.5" font-size="17" text-anchor="middle" fill="#000" stroke="#000" stroke-width="0.12">70</text><text x="550.2624999999999" y="444.5" font-size="17" text-anchor="middle" fill="#000" stroke="#000" stroke-width="0.12">75</text><text x="581.275" y="444.5" font-size="17" text-anchor="middle" fill="#000" stroke="#000" stroke-width="0.12">80</text><text x="612.2874999999999" y="444.5" font-size="17" text-anchor="middle" fill="#000" stroke="#000" stroke-width="0.12">85</text><text x="643.3" y="444.5" font-size="17" text-anchor="middle" fill="#000" stroke="#000" stroke-width="0.12">90</text><text x="512" y="461.6" font-size="16.4" text-anchor="middle" fill="#000" stroke="#000" stroke-width="0.12" textLength="147.5" lengthAdjust="spacingAndGlyphs">elevation angle (deg)</text><text transform="translate(350.7,347.5) rotate(-90)" font-size="16" text-anchor="middle" stroke="#000" stroke-width="0.12" textLength="184.8" lengthAdjust="spacingAndGlyphs">precipitating energy (keV)</text><text x="403.3" y="287.8" font-size="17" text-anchor="start" fill="#000" stroke="#000" stroke-width="0.12">(d)</text><text x="566.55" y="289.4" font-size="18" text-anchor="middle" fill="#7626dc" stroke="#7626dc" stroke-width="0.12" textLength="89" lengthAdjust="spacingAndGlyphs">geomagnetic</text><text x="568.95" y="308.5" font-size="18" text-anchor="middle" fill="#7626dc" stroke="#7626dc" stroke-width="0.12" textLength="42.5" lengthAdjust="spacingAndGlyphs">zenith</text><text x="577.1" y="370.5" font-size="17" text-anchor="start" fill="#000" stroke="#000" stroke-width="0.12" textLength="53.5" lengthAdjust="spacingAndGlyphs">1.6 keV</text></svg></body></html>
